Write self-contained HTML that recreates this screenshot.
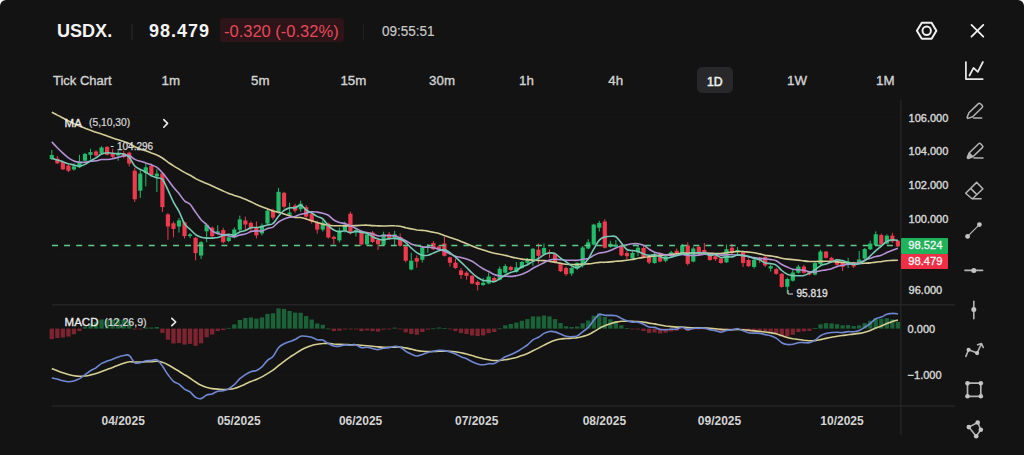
<!DOCTYPE html>
<html><head><meta charset="utf-8">
<style>
html,body{margin:0;padding:0;background:#ffffff;}
body{width:1024px;height:455px;overflow:hidden;position:relative;font-family:"Liberation Sans", sans-serif;}
#app{position:absolute;left:0;top:0;width:1024px;height:455px;background:#131313;border-radius:6px 6px 0 0;overflow:hidden;}
.t{position:absolute;white-space:nowrap;font-family:"Liberation Sans", sans-serif;}
</style></head><body><div id="app">

<svg width="1024" height="455" style="position:absolute;left:0;top:0">
<rect x="52" y="116.7" width="848" height="1" fill="#171717"/><rect x="52" y="149.5" width="848" height="1" fill="#171717"/><rect x="52" y="183.7" width="848" height="1" fill="#171717"/><rect x="52" y="218.1" width="848" height="1" fill="#171717"/><rect x="52" y="253.7" width="848" height="1" fill="#171717"/><rect x="52" y="289.5" width="848" height="1" fill="#171717"/><rect x="52" y="328.1" width="848" height="1" fill="#171717"/><rect x="52" y="374.7" width="848" height="1" fill="#171717"/>
 <rect x="52" y="304.2" width="903" height="1.2" fill="#28282c"/>
 <rect x="52" y="405.4" width="903" height="1.2" fill="#28282c"/>
 <rect x="900.2" y="100" width="1.3" height="335" fill="#272729"/>
 <g><rect x="51.30" y="150.0" width="1" height="10.0" fill="#22bb6a"/>
<rect x="49.70" y="155.0" width="4.2" height="4.0" fill="#22bb6a"/>
<rect x="56.83" y="156.0" width="1" height="8.0" fill="#ee3a4f"/>
<rect x="55.23" y="158.7" width="4.2" height="4.6" fill="#ee3a4f"/>
<rect x="62.36" y="160.7" width="1" height="9.3" fill="#ee3a4f"/>
<rect x="60.76" y="162.0" width="4.2" height="7.3" fill="#ee3a4f"/>
<rect x="67.89" y="164.0" width="1" height="8.0" fill="#ee3a4f"/>
<rect x="66.29" y="165.6" width="4.2" height="5.2" fill="#ee3a4f"/>
<rect x="73.42" y="163.3" width="1" height="7.3" fill="#22bb6a"/>
<rect x="71.82" y="166.4" width="4.2" height="3.1" fill="#22bb6a"/>
<rect x="78.95" y="154.8" width="1" height="13.2" fill="#22bb6a"/>
<rect x="77.35" y="161.4" width="4.2" height="5.9" fill="#22bb6a"/>
<rect x="84.48" y="152.8" width="1" height="8.6" fill="#22bb6a"/>
<rect x="82.88" y="154.0" width="4.2" height="6.7" fill="#22bb6a"/>
<rect x="90.01" y="148.8" width="1" height="10.6" fill="#22bb6a"/>
<rect x="88.41" y="152.1" width="4.2" height="2.7" fill="#22bb6a"/>
<rect x="95.54" y="150.2" width="1" height="6.5" fill="#ee3a4f"/>
<rect x="93.94" y="151.5" width="4.2" height="3.9" fill="#ee3a4f"/>
<rect x="101.07" y="146.2" width="1" height="7.9" fill="#22bb6a"/>
<rect x="99.47" y="147.5" width="4.2" height="6.0" fill="#22bb6a"/>
<rect x="106.60" y="146.2" width="1" height="9.2" fill="#ee3a4f"/>
<rect x="105.00" y="146.9" width="4.2" height="7.9" fill="#ee3a4f"/>
<rect x="112.13" y="148.8" width="1" height="9.2" fill="#ee3a4f"/>
<rect x="110.53" y="153.5" width="4.2" height="3.2" fill="#ee3a4f"/>
<rect x="117.66" y="150.8" width="1" height="9.9" fill="#22bb6a"/>
<rect x="116.06" y="153.5" width="4.2" height="1.9" fill="#22bb6a"/>
<rect x="123.19" y="151.0" width="1" height="7.0" fill="#ee3a4f"/>
<rect x="121.59" y="153.0" width="4.2" height="4.0" fill="#ee3a4f"/>
<rect x="128.72" y="151.6" width="1" height="14.8" fill="#ee3a4f"/>
<rect x="127.12" y="152.7" width="4.2" height="10.9" fill="#ee3a4f"/>
<rect x="134.25" y="167.9" width="1" height="34.1" fill="#ee3a4f"/>
<rect x="132.65" y="170.7" width="4.2" height="28.6" fill="#ee3a4f"/>
<rect x="139.78" y="169.3" width="1" height="28.6" fill="#22bb6a"/>
<rect x="138.18" y="173.6" width="4.2" height="17.1" fill="#22bb6a"/>
<rect x="145.31" y="163.6" width="1" height="22.8" fill="#22bb6a"/>
<rect x="143.71" y="167.3" width="4.2" height="5.7" fill="#22bb6a"/>
<rect x="150.84" y="163.6" width="1" height="12.8" fill="#ee3a4f"/>
<rect x="149.24" y="165.9" width="4.2" height="9.1" fill="#ee3a4f"/>
<rect x="156.37" y="169.3" width="1" height="22.7" fill="#22bb6a"/>
<rect x="154.77" y="173.6" width="4.2" height="2.8" fill="#22bb6a"/>
<rect x="161.90" y="172.0" width="1" height="40.0" fill="#ee3a4f"/>
<rect x="160.30" y="173.3" width="4.2" height="33.8" fill="#ee3a4f"/>
<rect x="167.43" y="213.2" width="1" height="26.6" fill="#ee3a4f"/>
<rect x="165.83" y="214.4" width="4.2" height="12.1" fill="#ee3a4f"/>
<rect x="172.96" y="221.6" width="1" height="15.7" fill="#ee3a4f"/>
<rect x="171.36" y="223.3" width="4.2" height="5.6" fill="#ee3a4f"/>
<rect x="178.49" y="218.0" width="1" height="14.5" fill="#22bb6a"/>
<rect x="176.89" y="220.4" width="4.2" height="6.1" fill="#22bb6a"/>
<rect x="184.02" y="221.6" width="1" height="16.9" fill="#ee3a4f"/>
<rect x="182.42" y="222.4" width="4.2" height="13.7" fill="#ee3a4f"/>
<rect x="189.55" y="233.0" width="1" height="5.0" fill="#22bb6a"/>
<rect x="187.95" y="234.4" width="4.2" height="1.7" fill="#22bb6a"/>
<rect x="195.08" y="236.9" width="1" height="23.4" fill="#ee3a4f"/>
<rect x="193.48" y="237.8" width="4.2" height="15.2" fill="#ee3a4f"/>
<rect x="200.61" y="241.0" width="1" height="18.0" fill="#22bb6a"/>
<rect x="199.01" y="242.2" width="4.2" height="13.3" fill="#22bb6a"/>
<rect x="206.14" y="223.3" width="1" height="18.9" fill="#22bb6a"/>
<rect x="204.54" y="224.8" width="4.2" height="6.5" fill="#22bb6a"/>
<rect x="211.67" y="226.5" width="1" height="12.0" fill="#ee3a4f"/>
<rect x="210.07" y="227.7" width="4.2" height="8.4" fill="#ee3a4f"/>
<rect x="217.20" y="225.3" width="1" height="9.6" fill="#22bb6a"/>
<rect x="215.60" y="231.3" width="4.2" height="2.4" fill="#22bb6a"/>
<rect x="222.73" y="227.7" width="1" height="15.7" fill="#ee3a4f"/>
<rect x="221.13" y="230.1" width="4.2" height="12.1" fill="#ee3a4f"/>
<rect x="228.26" y="236.1" width="1" height="6.1" fill="#22bb6a"/>
<rect x="226.66" y="237.3" width="4.2" height="3.7" fill="#22bb6a"/>
<rect x="233.79" y="227.5" width="1" height="10.9" fill="#22bb6a"/>
<rect x="232.19" y="229.5" width="4.2" height="7.9" fill="#22bb6a"/>
<rect x="239.32" y="215.6" width="1" height="15.8" fill="#22bb6a"/>
<rect x="237.72" y="219.4" width="4.2" height="10.4" fill="#22bb6a"/>
<rect x="244.85" y="216.6" width="1" height="13.8" fill="#ee3a4f"/>
<rect x="243.25" y="220.5" width="4.2" height="4.0" fill="#ee3a4f"/>
<rect x="250.38" y="221.5" width="1" height="10.9" fill="#ee3a4f"/>
<rect x="248.78" y="222.9" width="4.2" height="5.6" fill="#ee3a4f"/>
<rect x="255.91" y="221.5" width="1" height="16.9" fill="#ee3a4f"/>
<rect x="254.31" y="226.9" width="4.2" height="8.5" fill="#ee3a4f"/>
<rect x="261.44" y="223.5" width="1" height="11.9" fill="#22bb6a"/>
<rect x="259.84" y="225.5" width="4.2" height="7.9" fill="#22bb6a"/>
<rect x="266.97" y="208.7" width="1" height="15.8" fill="#22bb6a"/>
<rect x="265.37" y="210.6" width="4.2" height="12.9" fill="#22bb6a"/>
<rect x="272.50" y="208.7" width="1" height="10.9" fill="#ee3a4f"/>
<rect x="270.90" y="210.6" width="4.2" height="7.0" fill="#ee3a4f"/>
<rect x="278.03" y="187.9" width="1" height="25.7" fill="#22bb6a"/>
<rect x="276.43" y="191.8" width="4.2" height="20.8" fill="#22bb6a"/>
<rect x="283.56" y="191.8" width="1" height="16.9" fill="#ee3a4f"/>
<rect x="281.96" y="192.8" width="4.2" height="13.9" fill="#ee3a4f"/>
<rect x="289.09" y="202.7" width="1" height="14.9" fill="#22bb6a"/>
<rect x="287.49" y="212.6" width="4.2" height="2.0" fill="#22bb6a"/>
<rect x="294.62" y="203.7" width="1" height="8.9" fill="#ee3a4f"/>
<rect x="293.02" y="205.7" width="4.2" height="4.9" fill="#ee3a4f"/>
<rect x="300.15" y="200.7" width="1" height="10.9" fill="#22bb6a"/>
<rect x="298.55" y="203.7" width="4.2" height="5.5" fill="#22bb6a"/>
<rect x="305.68" y="205.2" width="1" height="14.0" fill="#ee3a4f"/>
<rect x="304.08" y="207.2" width="4.2" height="9.4" fill="#ee3a4f"/>
<rect x="311.21" y="212.7" width="1" height="10.9" fill="#ee3a4f"/>
<rect x="309.61" y="213.7" width="4.2" height="7.9" fill="#ee3a4f"/>
<rect x="316.74" y="220.6" width="1" height="12.9" fill="#ee3a4f"/>
<rect x="315.14" y="222.6" width="4.2" height="7.0" fill="#ee3a4f"/>
<rect x="322.27" y="219.7" width="1" height="11.8" fill="#22bb6a"/>
<rect x="320.67" y="222.6" width="4.2" height="7.0" fill="#22bb6a"/>
<rect x="327.80" y="222.6" width="1" height="15.9" fill="#ee3a4f"/>
<rect x="326.20" y="223.6" width="4.2" height="13.9" fill="#ee3a4f"/>
<rect x="333.33" y="235.5" width="1" height="8.9" fill="#ee3a4f"/>
<rect x="331.73" y="236.9" width="4.2" height="2.0" fill="#ee3a4f"/>
<rect x="338.86" y="227.6" width="1" height="14.8" fill="#22bb6a"/>
<rect x="337.26" y="230.5" width="4.2" height="9.9" fill="#22bb6a"/>
<rect x="344.39" y="221.6" width="1" height="10.9" fill="#22bb6a"/>
<rect x="342.79" y="224.6" width="4.2" height="5.9" fill="#22bb6a"/>
<rect x="349.92" y="211.7" width="1" height="22.8" fill="#ee3a4f"/>
<rect x="348.32" y="213.7" width="4.2" height="18.8" fill="#ee3a4f"/>
<rect x="355.45" y="228.6" width="1" height="7.9" fill="#22bb6a"/>
<rect x="353.85" y="230.1" width="4.2" height="2.4" fill="#22bb6a"/>
<rect x="360.98" y="230.5" width="1" height="14.9" fill="#ee3a4f"/>
<rect x="359.38" y="231.5" width="4.2" height="12.9" fill="#ee3a4f"/>
<rect x="366.51" y="232.5" width="1" height="12.9" fill="#22bb6a"/>
<rect x="364.91" y="234.5" width="4.2" height="9.9" fill="#22bb6a"/>
<rect x="372.04" y="231.0" width="1" height="12.0" fill="#ee3a4f"/>
<rect x="370.44" y="232.5" width="4.2" height="9.5" fill="#ee3a4f"/>
<rect x="377.57" y="238.5" width="1" height="11.5" fill="#ee3a4f"/>
<rect x="375.97" y="240.0" width="4.2" height="4.2" fill="#ee3a4f"/>
<rect x="383.10" y="231.7" width="1" height="14.1" fill="#22bb6a"/>
<rect x="381.50" y="234.3" width="4.2" height="10.6" fill="#22bb6a"/>
<rect x="388.63" y="232.0" width="1" height="8.0" fill="#ee3a4f"/>
<rect x="387.03" y="234.3" width="4.2" height="3.6" fill="#ee3a4f"/>
<rect x="394.16" y="230.8" width="1" height="15.0" fill="#22bb6a"/>
<rect x="392.56" y="234.3" width="4.2" height="4.4" fill="#22bb6a"/>
<rect x="399.69" y="233.5" width="1" height="13.1" fill="#ee3a4f"/>
<rect x="398.09" y="237.0" width="4.2" height="8.8" fill="#ee3a4f"/>
<rect x="405.22" y="245.8" width="1" height="16.7" fill="#ee3a4f"/>
<rect x="403.62" y="246.6" width="4.2" height="14.1" fill="#ee3a4f"/>
<rect x="410.75" y="252.8" width="1" height="17.6" fill="#22bb6a"/>
<rect x="409.15" y="260.7" width="4.2" height="8.8" fill="#22bb6a"/>
<rect x="416.28" y="255.4" width="1" height="12.3" fill="#ee3a4f"/>
<rect x="414.68" y="258.1" width="4.2" height="3.5" fill="#ee3a4f"/>
<rect x="421.81" y="245.8" width="1" height="16.7" fill="#22bb6a"/>
<rect x="420.21" y="247.5" width="4.2" height="12.3" fill="#22bb6a"/>
<rect x="427.34" y="244.0" width="1" height="8.8" fill="#22bb6a"/>
<rect x="425.74" y="245.8" width="4.2" height="1.7" fill="#22bb6a"/>
<rect x="432.87" y="241.0" width="1" height="9.2" fill="#ee3a4f"/>
<rect x="431.27" y="243.1" width="4.2" height="6.2" fill="#ee3a4f"/>
<rect x="438.40" y="245.0" width="1" height="6.0" fill="#ee3a4f"/>
<rect x="436.80" y="246.5" width="4.2" height="3.1" fill="#ee3a4f"/>
<rect x="443.93" y="236.5" width="1" height="20.0" fill="#ee3a4f"/>
<rect x="442.33" y="243.5" width="4.2" height="12.3" fill="#ee3a4f"/>
<rect x="449.46" y="256.5" width="1" height="10.0" fill="#ee3a4f"/>
<rect x="447.86" y="257.3" width="4.2" height="5.4" fill="#ee3a4f"/>
<rect x="454.99" y="258.8" width="1" height="10.0" fill="#ee3a4f"/>
<rect x="453.39" y="262.7" width="4.2" height="5.3" fill="#ee3a4f"/>
<rect x="460.52" y="268.0" width="1" height="10.8" fill="#ee3a4f"/>
<rect x="458.92" y="270.4" width="4.2" height="4.6" fill="#ee3a4f"/>
<rect x="466.05" y="271.2" width="1" height="8.4" fill="#ee3a4f"/>
<rect x="464.45" y="272.7" width="4.2" height="3.1" fill="#ee3a4f"/>
<rect x="471.58" y="275.0" width="1" height="9.2" fill="#ee3a4f"/>
<rect x="469.98" y="275.8" width="4.2" height="7.7" fill="#ee3a4f"/>
<rect x="477.11" y="280.4" width="1" height="10.0" fill="#ee3a4f"/>
<rect x="475.51" y="281.9" width="4.2" height="3.1" fill="#ee3a4f"/>
<rect x="482.64" y="278.0" width="1" height="7.8" fill="#22bb6a"/>
<rect x="481.04" y="282.7" width="4.2" height="2.3" fill="#22bb6a"/>
<rect x="488.17" y="272.7" width="1" height="11.5" fill="#22bb6a"/>
<rect x="486.57" y="276.5" width="4.2" height="7.0" fill="#22bb6a"/>
<rect x="493.70" y="276.5" width="1" height="5.4" fill="#ee3a4f"/>
<rect x="492.10" y="278.0" width="4.2" height="3.2" fill="#ee3a4f"/>
<rect x="499.23" y="266.5" width="1" height="13.9" fill="#22bb6a"/>
<rect x="497.63" y="268.8" width="4.2" height="10.8" fill="#22bb6a"/>
<rect x="504.76" y="264.2" width="1" height="9.3" fill="#22bb6a"/>
<rect x="503.16" y="266.0" width="4.2" height="6.7" fill="#22bb6a"/>
<rect x="510.29" y="265.8" width="1" height="5.4" fill="#ee3a4f"/>
<rect x="508.69" y="267.0" width="4.2" height="3.0" fill="#ee3a4f"/>
<rect x="515.82" y="262.0" width="1" height="10.7" fill="#22bb6a"/>
<rect x="514.22" y="267.3" width="4.2" height="4.7" fill="#22bb6a"/>
<rect x="521.35" y="261.0" width="1" height="7.8" fill="#22bb6a"/>
<rect x="519.75" y="262.0" width="4.2" height="6.0" fill="#22bb6a"/>
<rect x="526.88" y="258.0" width="1" height="6.2" fill="#22bb6a"/>
<rect x="525.28" y="258.8" width="4.2" height="3.9" fill="#22bb6a"/>
<rect x="532.41" y="248.0" width="1" height="17.8" fill="#22bb6a"/>
<rect x="530.81" y="248.8" width="4.2" height="10.8" fill="#22bb6a"/>
<rect x="537.94" y="243.5" width="1" height="20.0" fill="#ee3a4f"/>
<rect x="536.34" y="249.6" width="4.2" height="6.2" fill="#ee3a4f"/>
<rect x="543.47" y="243.5" width="1" height="11.5" fill="#22bb6a"/>
<rect x="541.87" y="248.0" width="4.2" height="6.2" fill="#22bb6a"/>
<rect x="549.00" y="249.6" width="1" height="8.4" fill="#ee3a4f"/>
<rect x="547.40" y="252.0" width="4.2" height="1.5" fill="#ee3a4f"/>
<rect x="554.53" y="252.7" width="1" height="10.8" fill="#ee3a4f"/>
<rect x="552.93" y="254.2" width="4.2" height="7.8" fill="#ee3a4f"/>
<rect x="560.06" y="262.7" width="1" height="9.3" fill="#ee3a4f"/>
<rect x="558.46" y="264.2" width="4.2" height="7.0" fill="#ee3a4f"/>
<rect x="565.59" y="266.5" width="1" height="9.3" fill="#ee3a4f"/>
<rect x="563.99" y="268.0" width="4.2" height="6.2" fill="#ee3a4f"/>
<rect x="571.12" y="267.3" width="1" height="8.5" fill="#22bb6a"/>
<rect x="569.52" y="268.0" width="4.2" height="5.5" fill="#22bb6a"/>
<rect x="576.65" y="262.0" width="1" height="8.0" fill="#22bb6a"/>
<rect x="575.05" y="263.0" width="4.2" height="5.5" fill="#22bb6a"/>
<rect x="582.18" y="246.0" width="1" height="21.5" fill="#22bb6a"/>
<rect x="580.58" y="247.5" width="4.2" height="18.1" fill="#22bb6a"/>
<rect x="587.71" y="239.2" width="1" height="10.0" fill="#22bb6a"/>
<rect x="586.11" y="242.3" width="4.2" height="6.2" fill="#22bb6a"/>
<rect x="593.24" y="223.8" width="1" height="21.6" fill="#22bb6a"/>
<rect x="591.64" y="224.6" width="4.2" height="20.0" fill="#22bb6a"/>
<rect x="598.77" y="220.8" width="1" height="10.7" fill="#22bb6a"/>
<rect x="597.17" y="223.0" width="4.2" height="4.7" fill="#22bb6a"/>
<rect x="604.30" y="219.2" width="1" height="29.3" fill="#ee3a4f"/>
<rect x="602.70" y="221.5" width="4.2" height="26.2" fill="#ee3a4f"/>
<rect x="609.83" y="240.8" width="1" height="6.9" fill="#22bb6a"/>
<rect x="608.23" y="243.8" width="4.2" height="3.1" fill="#22bb6a"/>
<rect x="615.36" y="240.0" width="1" height="7.7" fill="#22bb6a"/>
<rect x="613.76" y="244.6" width="4.2" height="2.3" fill="#22bb6a"/>
<rect x="620.89" y="244.6" width="1" height="11.6" fill="#ee3a4f"/>
<rect x="619.29" y="245.4" width="4.2" height="10.0" fill="#ee3a4f"/>
<rect x="626.42" y="250.8" width="1" height="8.4" fill="#ee3a4f"/>
<rect x="624.82" y="253.0" width="4.2" height="3.2" fill="#ee3a4f"/>
<rect x="631.95" y="251.5" width="1" height="7.7" fill="#22bb6a"/>
<rect x="630.35" y="253.0" width="4.2" height="5.5" fill="#22bb6a"/>
<rect x="637.48" y="245.4" width="1" height="10.8" fill="#22bb6a"/>
<rect x="635.88" y="247.7" width="4.2" height="4.6" fill="#22bb6a"/>
<rect x="643.01" y="246.2" width="1" height="11.8" fill="#ee3a4f"/>
<rect x="641.41" y="248.0" width="4.2" height="9.3" fill="#ee3a4f"/>
<rect x="648.54" y="255.0" width="1" height="9.0" fill="#ee3a4f"/>
<rect x="646.94" y="256.5" width="4.2" height="6.0" fill="#ee3a4f"/>
<rect x="654.07" y="252.3" width="1" height="11.5" fill="#22bb6a"/>
<rect x="652.47" y="254.0" width="4.2" height="9.0" fill="#22bb6a"/>
<rect x="659.60" y="252.3" width="1" height="10.0" fill="#ee3a4f"/>
<rect x="658.00" y="253.8" width="4.2" height="7.7" fill="#ee3a4f"/>
<rect x="665.13" y="254.6" width="1" height="7.7" fill="#22bb6a"/>
<rect x="663.53" y="256.2" width="4.2" height="4.6" fill="#22bb6a"/>
<rect x="670.66" y="250.8" width="1" height="6.1" fill="#22bb6a"/>
<rect x="669.06" y="252.3" width="4.2" height="3.9" fill="#22bb6a"/>
<rect x="676.19" y="248.5" width="1" height="6.1" fill="#ee3a4f"/>
<rect x="674.59" y="250.8" width="4.2" height="3.0" fill="#ee3a4f"/>
<rect x="681.72" y="243.8" width="1" height="10.0" fill="#22bb6a"/>
<rect x="680.12" y="245.4" width="4.2" height="7.7" fill="#22bb6a"/>
<rect x="687.25" y="242.3" width="1" height="23.1" fill="#ee3a4f"/>
<rect x="685.65" y="245.4" width="4.2" height="18.4" fill="#ee3a4f"/>
<rect x="692.78" y="246.9" width="1" height="15.4" fill="#22bb6a"/>
<rect x="691.18" y="248.5" width="4.2" height="13.0" fill="#22bb6a"/>
<rect x="698.31" y="245.4" width="1" height="9.2" fill="#ee3a4f"/>
<rect x="696.71" y="246.9" width="4.2" height="6.2" fill="#ee3a4f"/>
<rect x="703.84" y="243.1" width="1" height="10.0" fill="#ee3a4f"/>
<rect x="702.24" y="250.0" width="4.2" height="2.3" fill="#ee3a4f"/>
<rect x="709.37" y="253.1" width="1" height="7.7" fill="#ee3a4f"/>
<rect x="707.77" y="254.6" width="4.2" height="5.4" fill="#ee3a4f"/>
<rect x="714.90" y="255.0" width="1" height="6.0" fill="#ee3a4f"/>
<rect x="713.30" y="256.2" width="4.2" height="3.0" fill="#ee3a4f"/>
<rect x="720.43" y="257.0" width="1" height="6.8" fill="#ee3a4f"/>
<rect x="718.83" y="258.5" width="4.2" height="4.5" fill="#ee3a4f"/>
<rect x="725.96" y="244.6" width="1" height="18.4" fill="#22bb6a"/>
<rect x="724.36" y="249.2" width="4.2" height="13.1" fill="#22bb6a"/>
<rect x="731.49" y="243.8" width="1" height="10.8" fill="#ee3a4f"/>
<rect x="729.89" y="247.7" width="4.2" height="5.4" fill="#ee3a4f"/>
<rect x="737.02" y="247.0" width="1" height="7.6" fill="#22bb6a"/>
<rect x="735.42" y="250.0" width="4.2" height="2.3" fill="#22bb6a"/>
<rect x="742.55" y="250.8" width="1" height="16.2" fill="#ee3a4f"/>
<rect x="740.95" y="251.5" width="4.2" height="11.5" fill="#ee3a4f"/>
<rect x="748.08" y="258.5" width="1" height="8.5" fill="#ee3a4f"/>
<rect x="746.48" y="260.0" width="4.2" height="6.2" fill="#ee3a4f"/>
<rect x="753.61" y="258.5" width="1" height="10.0" fill="#22bb6a"/>
<rect x="752.01" y="260.0" width="4.2" height="6.9" fill="#22bb6a"/>
<rect x="759.14" y="257.0" width="1" height="6.0" fill="#ee3a4f"/>
<rect x="757.54" y="257.7" width="4.2" height="2.3" fill="#ee3a4f"/>
<rect x="764.67" y="255.4" width="1" height="11.6" fill="#ee3a4f"/>
<rect x="763.07" y="257.0" width="4.2" height="8.4" fill="#ee3a4f"/>
<rect x="770.20" y="264.6" width="1" height="6.9" fill="#22bb6a"/>
<rect x="768.60" y="266.2" width="4.2" height="2.3" fill="#22bb6a"/>
<rect x="775.73" y="267.7" width="1" height="6.9" fill="#ee3a4f"/>
<rect x="774.13" y="269.2" width="4.2" height="4.6" fill="#ee3a4f"/>
<rect x="781.26" y="273.0" width="1" height="14.7" fill="#ee3a4f"/>
<rect x="779.66" y="273.8" width="4.2" height="13.1" fill="#ee3a4f"/>
<rect x="786.79" y="277.5" width="1" height="16.0" fill="#22bb6a"/>
<rect x="785.19" y="279.0" width="4.2" height="7.8" fill="#22bb6a"/>
<rect x="792.32" y="270.0" width="1" height="11.5" fill="#22bb6a"/>
<rect x="790.72" y="272.5" width="4.2" height="8.2" fill="#22bb6a"/>
<rect x="797.85" y="264.8" width="1" height="8.8" fill="#22bb6a"/>
<rect x="796.25" y="266.6" width="4.2" height="6.1" fill="#22bb6a"/>
<rect x="803.38" y="264.8" width="1" height="8.8" fill="#ee3a4f"/>
<rect x="801.78" y="266.6" width="4.2" height="6.1" fill="#ee3a4f"/>
<rect x="808.91" y="271.0" width="1" height="4.4" fill="#ee3a4f"/>
<rect x="807.31" y="271.9" width="4.2" height="2.6" fill="#ee3a4f"/>
<rect x="814.44" y="262.2" width="1" height="13.2" fill="#22bb6a"/>
<rect x="812.84" y="263.1" width="4.2" height="11.4" fill="#22bb6a"/>
<rect x="819.97" y="249.9" width="1" height="14.9" fill="#22bb6a"/>
<rect x="818.37" y="251.6" width="4.2" height="12.4" fill="#22bb6a"/>
<rect x="825.50" y="250.8" width="1" height="7.9" fill="#ee3a4f"/>
<rect x="823.90" y="251.6" width="4.2" height="6.2" fill="#ee3a4f"/>
<rect x="831.03" y="256.9" width="1" height="6.2" fill="#ee3a4f"/>
<rect x="829.43" y="257.8" width="4.2" height="4.4" fill="#ee3a4f"/>
<rect x="836.56" y="260.4" width="1" height="5.3" fill="#ee3a4f"/>
<rect x="834.96" y="261.3" width="4.2" height="3.5" fill="#ee3a4f"/>
<rect x="842.09" y="260.4" width="1" height="10.6" fill="#ee3a4f"/>
<rect x="840.49" y="262.0" width="4.2" height="4.8" fill="#ee3a4f"/>
<rect x="847.62" y="257.8" width="1" height="10.2" fill="#22bb6a"/>
<rect x="846.02" y="261.5" width="4.2" height="3.3" fill="#22bb6a"/>
<rect x="853.15" y="261.8" width="1" height="6.2" fill="#ee3a4f"/>
<rect x="851.55" y="262.5" width="4.2" height="4.0" fill="#ee3a4f"/>
<rect x="858.68" y="251.0" width="1" height="12.5" fill="#22bb6a"/>
<rect x="857.08" y="259.5" width="4.2" height="3.0" fill="#22bb6a"/>
<rect x="864.21" y="248.0" width="1" height="11.5" fill="#22bb6a"/>
<rect x="862.61" y="249.0" width="4.2" height="9.5" fill="#22bb6a"/>
<rect x="869.74" y="240.7" width="1" height="9.3" fill="#22bb6a"/>
<rect x="868.14" y="243.6" width="4.2" height="5.7" fill="#22bb6a"/>
<rect x="875.27" y="231.4" width="1" height="14.3" fill="#22bb6a"/>
<rect x="873.67" y="234.3" width="4.2" height="10.7" fill="#22bb6a"/>
<rect x="880.80" y="233.6" width="1" height="11.4" fill="#ee3a4f"/>
<rect x="879.20" y="235.0" width="4.2" height="9.3" fill="#ee3a4f"/>
<rect x="886.33" y="234.3" width="1" height="10.0" fill="#22bb6a"/>
<rect x="884.73" y="235.7" width="4.2" height="7.9" fill="#22bb6a"/>
<rect x="891.86" y="232.9" width="1" height="10.0" fill="#ee3a4f"/>
<rect x="890.26" y="235.7" width="4.2" height="5.7" fill="#ee3a4f"/>
<rect x="897.39" y="240.0" width="1" height="7.1" fill="#ee3a4f"/>
<rect x="895.79" y="240.7" width="4.2" height="5.7" fill="#ee3a4f"/>
<path d="M51.8,112.3 C52.7,112.8 55.5,114.1 57.3,115.1 C59.2,116.0 61.0,117.0 62.9,118.0 C64.7,119.0 66.5,120.0 68.4,120.9 C70.2,121.8 72.1,122.7 73.9,123.6 C75.8,124.5 77.6,125.3 79.5,126.1 C81.3,126.8 83.1,127.5 85.0,128.2 C86.8,128.9 88.7,129.6 90.5,130.3 C92.4,130.9 94.2,131.7 96.0,132.3 C97.9,133.0 99.7,133.5 101.6,134.1 C103.4,134.7 105.3,135.4 107.1,136.0 C108.9,136.7 110.8,137.4 112.6,138.0 C114.5,138.6 116.3,139.2 118.2,139.8 C120.0,140.4 121.8,141.0 123.7,141.6 C125.5,142.2 127.4,142.7 129.2,143.6 C131.1,144.4 132.9,145.8 134.8,146.7 C136.6,147.6 138.4,148.2 140.3,148.9 C142.1,149.6 144.0,150.2 145.8,150.8 C147.7,151.5 149.5,152.3 151.3,153.0 C153.2,153.6 155.0,154.1 156.9,155.0 C158.7,155.8 160.6,156.9 162.4,158.0 C164.2,159.2 166.1,160.8 167.9,162.1 C169.8,163.4 171.6,164.7 173.5,165.9 C175.3,167.0 177.1,168.0 179.0,169.1 C180.8,170.2 182.7,171.4 184.5,172.4 C186.4,173.5 188.2,174.3 190.1,175.3 C191.9,176.3 193.7,177.6 195.6,178.6 C197.4,179.6 199.3,180.5 201.1,181.3 C203.0,182.1 204.8,182.7 206.6,183.4 C208.5,184.2 210.3,185.1 212.2,186.0 C214.0,186.8 215.9,187.7 217.7,188.5 C219.5,189.4 221.4,190.3 223.2,191.1 C225.1,192.0 226.9,192.7 228.8,193.4 C230.6,194.1 232.4,194.7 234.3,195.4 C236.1,196.0 238.0,196.5 239.8,197.1 C241.7,197.8 243.5,198.5 245.4,199.2 C247.2,200.0 249.0,200.8 250.9,201.7 C252.7,202.6 254.6,203.6 256.4,204.5 C258.3,205.3 260.1,206.1 261.9,206.8 C263.8,207.6 265.6,208.2 267.5,208.9 C269.3,209.6 271.2,210.5 273.0,211.0 C274.8,211.6 276.7,211.7 278.5,212.2 C280.4,212.7 282.2,213.4 284.1,214.0 C285.9,214.6 287.7,215.3 289.6,215.8 C291.4,216.4 293.3,217.1 295.1,217.4 C297.0,217.7 298.8,217.3 300.7,217.5 C302.5,217.8 304.3,218.4 306.2,219.0 C308.0,219.5 309.9,220.2 311.7,220.8 C313.6,221.4 315.4,222.0 317.2,222.6 C319.1,223.2 320.9,223.8 322.8,224.2 C324.6,224.7 326.5,225.0 328.3,225.2 C330.1,225.5 332.0,225.6 333.8,225.7 C335.7,225.7 337.5,225.7 339.4,225.7 C341.2,225.7 343.0,225.9 344.9,225.9 C346.7,225.9 348.6,225.8 350.4,225.7 C352.3,225.7 354.1,225.7 356.0,225.6 C357.8,225.5 359.6,225.4 361.5,225.3 C363.3,225.2 365.2,225.0 367.0,225.1 C368.9,225.1 370.7,225.5 372.5,225.6 C374.4,225.8 376.2,225.8 378.1,225.9 C379.9,226.0 381.8,226.0 383.6,226.0 C385.4,226.0 387.3,225.9 389.1,225.8 C391.0,225.8 392.8,225.7 394.7,225.8 C396.5,225.8 398.3,226.0 400.2,226.3 C402.0,226.6 403.9,227.2 405.7,227.7 C407.6,228.1 409.4,228.5 411.2,228.9 C413.1,229.3 414.9,229.7 416.8,230.0 C418.6,230.2 420.5,230.2 422.3,230.4 C424.2,230.6 426.0,230.7 427.8,231.1 C429.7,231.4 431.5,232.0 433.4,232.3 C435.2,232.7 437.1,232.9 438.9,233.4 C440.7,233.9 442.6,234.9 444.4,235.6 C446.3,236.2 448.1,236.8 450.0,237.4 C451.8,238.0 453.6,238.6 455.5,239.3 C457.3,239.9 459.2,240.7 461.0,241.4 C462.9,242.2 464.7,243.0 466.6,243.8 C468.4,244.6 470.2,245.3 472.1,246.0 C473.9,246.8 475.8,247.5 477.6,248.2 C479.5,248.8 481.3,249.3 483.1,249.9 C485.0,250.5 486.8,251.2 488.7,251.7 C490.5,252.3 492.4,252.8 494.2,253.2 C496.0,253.6 497.9,253.8 499.7,254.2 C501.6,254.5 503.4,254.9 505.3,255.4 C507.1,255.8 508.9,256.4 510.8,256.9 C512.6,257.3 514.5,257.7 516.3,258.0 C518.2,258.4 520.0,258.8 521.9,259.1 C523.7,259.4 525.5,259.4 527.4,259.6 C529.2,259.7 531.1,259.9 532.9,260.1 C534.8,260.2 536.6,260.4 538.4,260.5 C540.3,260.6 542.1,260.5 544.0,260.6 C545.8,260.8 547.7,261.0 549.5,261.3 C551.3,261.5 553.2,261.7 555.0,262.1 C556.9,262.4 558.7,263.0 560.6,263.3 C562.4,263.7 564.2,264.1 566.1,264.3 C567.9,264.5 569.8,264.4 571.6,264.5 C573.5,264.6 575.3,264.6 577.1,264.6 C579.0,264.5 580.8,264.2 582.7,264.1 C584.5,264.0 586.4,264.1 588.2,263.9 C590.1,263.8 591.9,263.5 593.7,263.2 C595.6,263.0 597.4,262.5 599.3,262.4 C601.1,262.2 603.0,262.4 604.8,262.3 C606.6,262.2 608.5,262.1 610.3,261.9 C612.2,261.7 614.0,261.5 615.9,261.3 C617.7,261.1 619.5,261.0 621.4,260.9 C623.2,260.7 625.1,260.5 626.9,260.2 C628.8,260.0 630.6,259.8 632.4,259.5 C634.3,259.2 636.1,258.6 638.0,258.3 C639.8,257.9 641.7,257.6 643.5,257.4 C645.4,257.1 647.2,256.9 649.0,256.7 C650.9,256.5 652.7,256.2 654.6,255.9 C656.4,255.7 658.3,255.5 660.1,255.3 C661.9,255.1 663.8,255.0 665.6,254.9 C667.5,254.7 669.3,254.6 671.2,254.4 C673.0,254.2 674.8,254.1 676.7,253.9 C678.5,253.7 680.4,253.2 682.2,253.1 C684.1,253.0 685.9,253.2 687.8,253.2 C689.6,253.1 691.4,252.9 693.3,252.9 C695.1,252.8 697.0,253.0 698.8,253.0 C700.7,253.0 702.5,252.8 704.3,252.9 C706.2,252.9 708.0,253.2 709.9,253.3 C711.7,253.4 713.6,253.4 715.4,253.5 C717.2,253.5 719.1,253.6 720.9,253.5 C722.8,253.4 724.6,253.0 726.5,252.8 C728.3,252.5 730.1,252.3 732.0,252.1 C733.8,251.8 735.7,251.6 737.5,251.5 C739.4,251.4 741.2,251.4 743.0,251.5 C744.9,251.6 746.7,251.9 748.6,252.1 C750.4,252.3 752.3,252.4 754.1,252.7 C756.0,253.0 757.8,253.4 759.6,253.9 C761.5,254.3 763.3,254.9 765.2,255.3 C767.0,255.6 768.9,255.6 770.7,255.9 C772.5,256.2 774.4,256.5 776.2,256.9 C778.1,257.3 779.9,257.9 781.8,258.3 C783.6,258.7 785.4,258.9 787.3,259.1 C789.1,259.3 791.0,259.5 792.8,259.6 C794.7,259.8 796.5,259.9 798.4,260.1 C800.2,260.3 802.0,260.7 803.9,260.9 C805.7,261.2 807.6,261.4 809.4,261.5 C811.3,261.6 813.1,261.5 814.9,261.5 C816.8,261.5 818.6,261.5 820.5,261.4 C822.3,261.4 824.2,261.3 826.0,261.3 C827.8,261.3 829.7,261.4 831.5,261.5 C833.4,261.6 835.2,261.8 837.1,261.9 C838.9,262.1 840.7,262.2 842.6,262.4 C844.4,262.5 846.3,262.8 848.1,262.9 C850.0,263.0 851.8,262.9 853.6,263.0 C855.5,263.1 857.3,263.3 859.2,263.4 C861.0,263.4 862.9,263.3 864.7,263.2 C866.6,263.1 868.4,263.1 870.2,262.9 C872.1,262.7 873.9,262.3 875.8,262.1 C877.6,261.8 879.5,261.8 881.3,261.6 C883.1,261.3 885.0,260.9 886.8,260.7 C888.7,260.5 890.5,260.5 892.4,260.4 C894.2,260.3 897.0,260.2 897.9,260.2" stroke="#d3ce98" stroke-width="1.6" fill="none"/>
<path d="M51.8,141.9 C52.7,142.9 55.5,145.9 57.3,147.8 C59.2,149.7 61.0,151.5 62.9,153.2 C64.7,154.9 66.5,156.5 68.4,157.8 C70.2,159.1 72.1,160.2 73.9,160.9 C75.8,161.7 77.6,162.1 79.5,162.3 C81.3,162.5 83.1,162.4 85.0,162.2 C86.8,162.0 88.7,161.6 90.5,161.3 C92.4,161.1 94.2,161.1 96.0,160.8 C97.9,160.5 99.7,159.7 101.6,159.5 C103.4,159.3 105.3,159.6 107.1,159.5 C108.9,159.4 110.8,159.2 112.6,158.8 C114.5,158.5 116.3,157.8 118.2,157.3 C120.0,156.8 121.8,156.2 123.7,155.9 C125.5,155.6 127.4,155.0 129.2,155.6 C131.1,156.2 132.9,158.4 134.8,159.4 C136.6,160.3 138.4,160.8 140.3,161.3 C142.1,161.9 144.0,162.3 145.8,162.9 C147.7,163.4 149.5,164.1 151.3,164.8 C153.2,165.6 155.0,166.1 156.9,167.4 C158.7,168.7 160.6,170.6 162.4,172.7 C164.2,174.7 166.1,177.2 167.9,179.7 C169.8,182.1 171.6,184.9 173.5,187.2 C175.3,189.5 177.1,191.3 179.0,193.5 C180.8,195.8 182.7,199.0 184.5,200.8 C186.4,202.6 188.2,202.4 190.1,204.3 C191.9,206.2 193.7,209.7 195.6,212.2 C197.4,214.8 199.3,217.6 201.1,219.7 C203.0,221.8 204.8,222.8 206.6,224.7 C208.5,226.6 210.3,229.5 212.2,230.9 C214.0,232.4 215.9,232.7 217.7,233.4 C219.5,234.0 221.4,234.5 223.2,234.9 C225.1,235.3 226.9,235.5 228.8,235.8 C230.6,236.1 232.4,236.8 234.3,236.7 C236.1,236.6 238.0,235.5 239.8,235.0 C241.7,234.6 243.5,234.6 245.4,234.0 C247.2,233.5 249.0,232.1 250.9,231.6 C252.7,231.1 254.6,231.0 256.4,230.9 C258.3,230.8 260.1,231.4 261.9,231.0 C263.8,230.6 265.6,229.1 267.5,228.4 C269.3,227.8 271.2,228.1 273.0,227.1 C274.8,226.0 276.7,223.4 278.5,222.0 C280.4,220.7 282.2,219.7 284.1,218.9 C285.9,218.2 287.7,217.7 289.6,217.3 C291.4,216.8 293.3,216.9 295.1,216.4 C297.0,215.9 298.8,214.8 300.7,214.3 C302.5,213.8 304.3,213.5 306.2,213.1 C308.0,212.7 309.9,211.9 311.7,211.7 C313.6,211.6 315.4,211.9 317.2,212.1 C319.1,212.4 320.9,212.8 322.8,213.3 C324.6,213.9 326.5,214.2 328.3,215.3 C330.1,216.4 332.0,218.9 333.8,220.0 C335.7,221.2 337.5,221.8 339.4,222.4 C341.2,223.0 343.0,223.1 344.9,223.6 C346.7,224.2 348.6,225.0 350.4,225.8 C352.3,226.6 354.1,227.5 356.0,228.4 C357.8,229.4 359.6,230.6 361.5,231.2 C363.3,231.9 365.2,232.1 367.0,232.5 C368.9,232.9 370.7,233.2 372.5,233.8 C374.4,234.3 376.2,235.6 378.1,235.9 C379.9,236.2 381.8,235.7 383.6,235.6 C385.4,235.5 387.3,235.5 389.1,235.5 C391.0,235.5 392.8,235.5 394.7,235.9 C396.5,236.3 398.3,237.2 400.2,238.0 C402.0,238.8 403.9,239.8 405.7,240.8 C407.6,241.8 409.4,243.1 411.2,243.9 C413.1,244.7 414.9,245.1 416.8,245.6 C418.6,246.1 420.5,246.6 422.3,246.9 C424.2,247.2 426.0,247.1 427.8,247.3 C429.7,247.4 431.5,247.5 433.4,247.8 C435.2,248.1 437.1,248.8 438.9,249.3 C440.7,249.9 442.6,250.3 444.4,251.1 C446.3,251.9 448.1,253.1 450.0,253.9 C451.8,254.8 453.6,255.6 455.5,256.2 C457.3,256.8 459.2,257.1 461.0,257.6 C462.9,258.1 464.7,258.5 466.6,259.1 C468.4,259.7 470.2,260.3 472.1,261.3 C473.9,262.3 475.8,263.8 477.6,265.1 C479.5,266.3 481.3,267.7 483.1,268.7 C485.0,269.8 486.8,270.5 488.7,271.5 C490.5,272.4 492.4,273.9 494.2,274.6 C496.0,275.4 497.9,275.6 499.7,275.9 C501.6,276.2 503.4,276.2 505.3,276.2 C507.1,276.3 508.9,276.5 510.8,276.4 C512.6,276.4 514.5,276.0 516.3,275.7 C518.2,275.3 520.0,274.9 521.9,274.3 C523.7,273.7 525.5,272.8 527.4,271.8 C529.2,270.8 531.1,269.3 532.9,268.2 C534.8,267.2 536.6,266.4 538.4,265.5 C540.3,264.6 542.1,263.6 544.0,262.7 C545.8,261.7 547.7,260.5 549.5,259.9 C551.3,259.3 553.2,259.2 555.0,259.2 C556.9,259.2 558.7,259.6 560.6,259.7 C562.4,259.9 564.2,260.1 566.1,260.2 C567.9,260.2 569.8,260.2 571.6,260.2 C573.5,260.3 575.3,260.5 577.1,260.3 C579.0,260.2 580.8,259.5 582.7,259.2 C584.5,258.9 586.4,259.2 588.2,258.6 C590.1,257.9 591.9,256.4 593.7,255.4 C595.6,254.5 597.4,253.4 599.3,252.9 C601.1,252.4 603.0,252.8 604.8,252.3 C606.6,251.9 608.5,251.3 610.3,250.5 C612.2,249.8 614.0,248.6 615.9,247.9 C617.7,247.1 619.5,246.5 621.4,246.0 C623.2,245.5 625.1,245.2 626.9,244.8 C628.8,244.4 630.6,244.0 632.4,243.8 C634.3,243.6 636.1,243.6 638.0,243.8 C639.8,244.1 641.7,244.4 643.5,245.3 C645.4,246.2 647.2,248.0 649.0,249.1 C650.9,250.3 652.7,251.5 654.6,252.2 C656.4,253.0 658.3,253.2 660.1,253.6 C661.9,254.0 663.8,254.5 665.6,254.8 C667.5,255.2 669.3,255.5 671.2,255.6 C673.0,255.7 674.8,255.7 676.7,255.4 C678.5,255.2 680.4,254.4 682.2,254.4 C684.1,254.4 685.9,255.3 687.8,255.4 C689.6,255.6 691.4,255.6 693.3,255.5 C695.1,255.5 697.0,255.3 698.8,255.1 C700.7,254.9 702.5,254.2 704.3,254.1 C706.2,254.0 708.0,254.6 709.9,254.7 C711.7,254.8 713.6,254.4 715.4,254.5 C717.2,254.5 719.1,255.1 720.9,255.1 C722.8,255.2 724.6,254.9 726.5,254.8 C728.3,254.8 730.1,254.7 732.0,254.8 C733.8,254.8 735.7,255.2 737.5,255.2 C739.4,255.3 741.2,254.9 743.0,255.1 C744.9,255.4 746.7,256.5 748.6,256.9 C750.4,257.3 752.3,257.4 754.1,257.6 C756.0,257.8 757.8,258.2 759.6,258.4 C761.5,258.6 763.3,258.7 765.2,258.9 C767.0,259.1 768.9,259.3 770.7,259.6 C772.5,259.9 774.4,259.9 776.2,260.7 C778.1,261.5 779.9,263.4 781.8,264.5 C783.6,265.5 785.4,266.2 787.3,267.1 C789.1,267.9 791.0,268.9 792.8,269.3 C794.7,269.7 796.5,269.5 798.4,269.7 C800.2,269.8 802.0,270.0 803.9,270.3 C805.7,270.7 807.6,271.5 809.4,271.8 C811.3,272.1 813.1,272.2 814.9,272.1 C816.8,271.9 818.6,271.1 820.5,270.7 C822.3,270.3 824.2,270.2 826.0,269.9 C827.8,269.5 829.7,269.3 831.5,268.7 C833.4,268.1 835.2,267.1 837.1,266.5 C838.9,265.9 840.7,265.6 842.6,265.3 C844.4,264.9 846.3,264.3 848.1,264.2 C850.0,264.0 851.8,264.4 853.6,264.1 C855.5,263.9 857.3,263.5 859.2,262.8 C861.0,262.2 862.9,261.0 864.7,260.3 C866.6,259.5 868.4,258.9 870.2,258.3 C872.1,257.7 873.9,257.1 875.8,256.6 C877.6,256.1 879.5,255.9 881.3,255.2 C883.1,254.6 885.0,253.4 886.8,252.6 C888.7,251.8 890.5,251.0 892.4,250.3 C894.2,249.5 897.0,248.6 897.9,248.2" stroke="#b592d6" stroke-width="1.6" fill="none"/>
<path d="M51.8,158.3 C52.7,158.6 55.5,159.5 57.3,160.0 C59.2,160.6 61.0,161.1 62.9,161.7 C64.7,162.3 66.5,163.2 68.4,163.8 C70.2,164.3 72.1,164.6 73.9,165.0 C75.8,165.4 77.6,166.3 79.5,166.2 C81.3,166.1 83.1,165.3 85.0,164.4 C86.8,163.5 88.7,162.0 90.5,160.9 C92.4,159.9 94.2,159.0 96.0,157.9 C97.9,156.7 99.7,154.9 101.6,154.1 C103.4,153.2 105.3,152.9 107.1,152.8 C108.9,152.6 110.8,153.2 112.6,153.3 C114.5,153.4 116.3,153.5 118.2,153.6 C120.0,153.7 121.8,153.3 123.7,153.9 C125.5,154.5 127.4,155.1 129.2,157.1 C131.1,159.1 132.9,164.0 134.8,166.0 C136.6,168.1 138.4,168.4 140.3,169.4 C142.1,170.4 144.0,171.1 145.8,172.2 C147.7,173.2 149.5,174.8 151.3,175.8 C153.2,176.7 155.0,177.2 156.9,177.8 C158.7,178.4 160.6,177.3 162.4,179.3 C164.2,181.3 166.1,186.1 167.9,189.9 C169.8,193.7 171.6,198.7 173.5,202.2 C175.3,205.8 177.1,207.7 179.0,211.3 C180.8,214.9 182.7,220.8 184.5,223.8 C186.4,226.8 188.2,227.5 190.1,229.3 C191.9,231.1 193.7,233.2 195.6,234.6 C197.4,235.9 199.3,236.6 201.1,237.2 C203.0,237.8 204.8,238.0 206.6,238.1 C208.5,238.2 210.3,238.2 212.2,238.1 C214.0,238.0 215.9,237.9 217.7,237.5 C219.5,237.0 221.4,235.8 223.2,235.3 C225.1,234.8 226.9,234.3 228.8,234.3 C230.6,234.3 232.4,235.7 234.3,235.3 C236.1,234.9 238.0,232.7 239.8,231.9 C241.7,231.2 243.5,231.3 245.4,230.6 C247.2,229.9 249.0,228.4 250.9,227.8 C252.7,227.3 254.6,227.7 256.4,227.5 C258.3,227.3 260.1,227.1 261.9,226.7 C263.8,226.2 265.6,225.4 267.5,224.9 C269.3,224.4 271.2,225.0 273.0,223.5 C274.8,222.1 276.7,218.4 278.5,216.2 C280.4,214.0 282.2,211.8 284.1,210.4 C285.9,209.1 287.7,208.3 289.6,207.9 C291.4,207.4 293.3,208.3 295.1,207.9 C297.0,207.4 298.8,204.7 300.7,205.1 C302.5,205.4 304.3,208.7 306.2,210.0 C308.0,211.4 309.9,212.0 311.7,213.0 C313.6,214.1 315.4,215.5 317.2,216.4 C319.1,217.4 320.9,217.3 322.8,218.8 C324.6,220.3 326.5,223.7 328.3,225.6 C330.1,227.5 332.0,229.0 333.8,230.0 C335.7,231.1 337.5,231.7 339.4,231.8 C341.2,231.9 343.0,230.7 344.9,230.8 C346.7,231.0 348.6,232.7 350.4,232.8 C352.3,232.9 354.1,231.4 356.0,231.3 C357.8,231.3 359.6,232.1 361.5,232.4 C363.3,232.7 365.2,232.5 367.0,233.2 C368.9,233.9 370.7,235.7 372.5,236.7 C374.4,237.7 376.2,238.5 378.1,239.0 C379.9,239.6 381.8,240.0 383.6,239.9 C385.4,239.8 387.3,238.8 389.1,238.6 C391.0,238.4 392.8,238.4 394.7,238.5 C396.5,238.7 398.3,238.6 400.2,239.3 C402.0,240.0 403.9,241.2 405.7,242.6 C407.6,244.0 409.4,246.2 411.2,247.9 C413.1,249.6 414.9,251.4 416.8,252.6 C418.6,253.8 420.5,254.8 422.3,255.3 C424.2,255.7 426.0,255.6 427.8,255.3 C429.7,254.9 431.5,253.7 433.4,253.0 C435.2,252.2 437.1,251.3 438.9,250.8 C440.7,250.2 442.6,249.3 444.4,249.6 C446.3,249.9 448.1,251.4 450.0,252.6 C451.8,253.9 453.6,255.5 455.5,257.1 C457.3,258.7 459.2,260.5 461.0,262.2 C462.9,263.9 464.7,265.7 466.6,267.5 C468.4,269.3 470.2,271.3 472.1,273.0 C473.9,274.7 475.8,276.2 477.6,277.5 C479.5,278.7 481.3,279.9 483.1,280.4 C485.0,280.9 486.8,280.5 488.7,280.7 C490.5,280.9 492.4,282.1 494.2,281.8 C496.0,281.5 497.9,280.0 499.7,278.8 C501.6,277.7 503.4,276.1 505.3,275.0 C507.1,274.0 508.9,273.2 510.8,272.5 C512.6,271.8 514.5,271.6 516.3,270.7 C518.2,269.7 520.0,267.8 521.9,266.8 C523.7,265.8 525.5,265.7 527.4,264.8 C529.2,263.9 531.1,262.4 532.9,261.4 C534.8,260.3 536.6,259.7 538.4,258.5 C540.3,257.4 542.1,255.6 544.0,254.7 C545.8,253.8 547.7,253.2 549.5,253.0 C551.3,252.8 553.2,252.8 555.0,253.6 C556.9,254.5 558.7,256.7 560.6,258.1 C562.4,259.5 564.2,260.5 566.1,261.8 C567.9,263.1 569.8,264.8 571.6,265.8 C573.5,266.8 575.3,267.8 577.1,267.7 C579.0,267.5 580.8,266.2 582.7,264.8 C584.5,263.3 586.4,261.6 588.2,259.0 C590.1,256.4 591.9,252.2 593.7,249.1 C595.6,245.9 597.4,242.1 599.3,240.1 C601.1,238.1 603.0,237.7 604.8,237.0 C606.6,236.4 608.5,236.3 610.3,236.3 C612.2,236.2 614.0,235.6 615.9,236.7 C617.7,237.8 619.5,240.8 621.4,242.9 C623.2,245.0 625.1,248.3 626.9,249.5 C628.8,250.8 630.6,250.3 632.4,250.6 C634.3,250.9 636.1,250.8 638.0,251.4 C639.8,251.9 641.7,253.3 643.5,253.9 C645.4,254.6 647.2,255.2 649.0,255.3 C650.9,255.5 652.7,254.7 654.6,254.9 C656.4,255.1 658.3,256.0 660.1,256.6 C661.9,257.2 663.8,258.2 665.6,258.3 C667.5,258.4 669.3,257.8 671.2,257.3 C673.0,256.8 674.8,256.1 676.7,255.6 C678.5,255.0 680.4,254.1 682.2,253.8 C684.1,253.6 685.9,254.5 687.8,254.3 C689.6,254.1 691.4,253.0 693.3,252.8 C695.1,252.5 697.0,252.9 698.8,252.9 C700.7,252.9 702.5,252.2 704.3,252.6 C706.2,253.1 708.0,255.2 709.9,255.5 C711.7,255.9 713.6,254.3 715.4,254.6 C717.2,254.9 719.1,257.2 720.9,257.5 C722.8,257.9 724.6,256.8 726.5,256.7 C728.3,256.6 730.1,257.2 732.0,256.9 C733.8,256.6 735.7,255.1 737.5,254.9 C739.4,254.7 741.2,255.4 743.0,255.7 C744.9,255.9 746.7,255.8 748.6,256.3 C750.4,256.8 752.3,257.9 754.1,258.5 C756.0,259.0 757.8,259.1 759.6,259.8 C761.5,260.6 763.3,262.3 765.2,262.9 C767.0,263.5 768.9,263.2 770.7,263.6 C772.5,263.9 774.4,263.9 776.2,265.1 C778.1,266.2 779.9,268.9 781.8,270.5 C783.6,272.0 785.4,273.4 787.3,274.3 C789.1,275.1 791.0,275.4 792.8,275.7 C794.7,275.9 796.5,275.8 798.4,275.8 C800.2,275.7 802.0,276.0 803.9,275.5 C805.7,275.1 807.6,274.0 809.4,273.1 C811.3,272.1 813.1,271.1 814.9,269.9 C816.8,268.7 818.6,266.7 820.5,265.7 C822.3,264.7 824.2,264.6 826.0,263.9 C827.8,263.3 829.7,262.5 831.5,261.8 C833.4,261.2 835.2,260.1 837.1,259.9 C838.9,259.7 840.7,260.2 842.6,260.6 C844.4,261.1 846.3,262.0 848.1,262.6 C850.0,263.2 851.8,264.2 853.6,264.4 C855.5,264.6 857.3,264.4 859.2,263.8 C861.0,263.2 862.9,262.0 864.7,260.7 C866.6,259.4 868.4,257.7 870.2,256.0 C872.1,254.3 873.9,252.2 875.8,250.6 C877.6,248.9 879.5,247.7 881.3,246.1 C883.1,244.6 885.0,242.4 886.8,241.4 C888.7,240.3 890.5,240.0 892.4,239.9 C894.2,239.7 897.0,240.3 897.9,240.4" stroke="#78c9b6" stroke-width="1.6" fill="none"/></g>
 <path d="M52,245.5 L898,245.5" stroke="#62c98f" stroke-width="1.4" stroke-dasharray="6 6.1"/>
 <path d="M110.8,146.5 L113.6,146.5" stroke="#d8d8d8" stroke-width="1.2"/>
 <path d="M788,290 L788,294 L793,294" stroke="#d8d8d8" stroke-width="1" fill="none"/>
 <path d="M163.8,119.6 L167.6,123.4 L163.8,127.2" stroke="#eeeeee" stroke-width="1.6" fill="none" stroke-linecap="round" stroke-linejoin="round"/>
 <path d="M171.8,318.3 L175.7,322 L171.8,325.7" stroke="#eeeeee" stroke-width="1.6" fill="none" stroke-linecap="round" stroke-linejoin="round"/>
 <g><rect x="49.65" y="328.6" width="4.3" height="10.5" fill="#7c2430"/>
<rect x="55.18" y="328.6" width="4.3" height="9.4" fill="#7c2430"/>
<rect x="60.71" y="328.6" width="4.3" height="8.9" fill="#7c2430"/>
<rect x="66.24" y="328.6" width="4.3" height="8.0" fill="#7c2430"/>
<rect x="71.77" y="328.6" width="4.3" height="5.7" fill="#7c2430"/>
<rect x="77.30" y="328.6" width="4.3" height="2.5" fill="#7c2430"/>
<rect x="82.83" y="327.1" width="4.3" height="1.5" fill="#1b6238"/>
<rect x="88.36" y="323.8" width="4.3" height="4.8" fill="#1b6238"/>
<rect x="93.89" y="322.2" width="4.3" height="6.4" fill="#1b6238"/>
<rect x="99.42" y="319.5" width="4.3" height="9.1" fill="#1b6238"/>
<rect x="104.95" y="319.3" width="4.3" height="9.3" fill="#1b6238"/>
<rect x="110.48" y="319.6" width="4.3" height="9.0" fill="#1b6238"/>
<rect x="116.01" y="319.2" width="4.3" height="9.4" fill="#1b6238"/>
<rect x="121.54" y="319.8" width="4.3" height="8.8" fill="#1b6238"/>
<rect x="127.07" y="321.5" width="4.3" height="7.1" fill="#1b6238"/>
<rect x="132.60" y="328.6" width="4.3" height="0.9" fill="#7c2430"/>
<rect x="138.13" y="328.6" width="4.3" height="0.8" fill="#7c2430"/>
<rect x="143.66" y="327.4" width="4.3" height="1.2" fill="#1b6238"/>
<rect x="149.19" y="327.5" width="4.3" height="1.1" fill="#1b6238"/>
<rect x="154.72" y="327.0" width="4.3" height="1.6" fill="#1b6238"/>
<rect x="160.25" y="328.6" width="4.3" height="4.3" fill="#7c2430"/>
<rect x="165.78" y="328.6" width="4.3" height="11.1" fill="#7c2430"/>
<rect x="171.31" y="328.6" width="4.3" height="14.9" fill="#7c2430"/>
<rect x="176.84" y="328.6" width="4.3" height="14.5" fill="#7c2430"/>
<rect x="182.37" y="328.6" width="4.3" height="16.0" fill="#7c2430"/>
<rect x="187.90" y="328.6" width="4.3" height="15.3" fill="#7c2430"/>
<rect x="193.43" y="328.6" width="4.3" height="17.2" fill="#7c2430"/>
<rect x="198.96" y="328.6" width="4.3" height="14.8" fill="#7c2430"/>
<rect x="204.49" y="328.6" width="4.3" height="8.7" fill="#7c2430"/>
<rect x="210.02" y="328.6" width="4.3" height="5.9" fill="#7c2430"/>
<rect x="215.55" y="328.6" width="4.3" height="2.4" fill="#7c2430"/>
<rect x="221.08" y="328.6" width="4.3" height="1.5" fill="#7c2430"/>
<rect x="226.61" y="327.9" width="4.3" height="0.8" fill="#1b6238"/>
<rect x="232.14" y="324.4" width="4.3" height="4.2" fill="#1b6238"/>
<rect x="237.67" y="320.0" width="4.3" height="8.6" fill="#1b6238"/>
<rect x="243.20" y="318.0" width="4.3" height="10.6" fill="#1b6238"/>
<rect x="248.73" y="317.5" width="4.3" height="11.1" fill="#1b6238"/>
<rect x="254.26" y="318.6" width="4.3" height="10.0" fill="#1b6238"/>
<rect x="259.79" y="317.4" width="4.3" height="11.2" fill="#1b6238"/>
<rect x="265.32" y="313.9" width="4.3" height="14.7" fill="#1b6238"/>
<rect x="270.85" y="313.3" width="4.3" height="15.3" fill="#1b6238"/>
<rect x="276.38" y="308.4" width="4.3" height="20.2" fill="#1b6238"/>
<rect x="281.91" y="308.9" width="4.3" height="19.7" fill="#1b6238"/>
<rect x="287.44" y="311.0" width="4.3" height="17.6" fill="#1b6238"/>
<rect x="292.97" y="312.6" width="4.3" height="16.0" fill="#1b6238"/>
<rect x="298.50" y="312.8" width="4.3" height="15.8" fill="#1b6238"/>
<rect x="304.03" y="316.1" width="4.3" height="12.5" fill="#1b6238"/>
<rect x="309.56" y="319.5" width="4.3" height="9.1" fill="#1b6238"/>
<rect x="315.09" y="323.5" width="4.3" height="5.1" fill="#1b6238"/>
<rect x="320.62" y="324.8" width="4.3" height="3.8" fill="#1b6238"/>
<rect x="326.15" y="328.5" width="4.3" height="0.8" fill="#1b6238"/>
<rect x="331.68" y="328.6" width="4.3" height="2.4" fill="#7c2430"/>
<rect x="337.21" y="328.6" width="4.3" height="2.0" fill="#7c2430"/>
<rect x="342.74" y="328.6" width="4.3" height="0.8" fill="#7c2430"/>
<rect x="348.27" y="328.6" width="4.3" height="0.8" fill="#7c2430"/>
<rect x="353.80" y="328.6" width="4.3" height="0.8" fill="#7c2430"/>
<rect x="359.33" y="328.6" width="4.3" height="2.5" fill="#7c2430"/>
<rect x="364.86" y="328.6" width="4.3" height="1.8" fill="#7c2430"/>
<rect x="370.39" y="328.6" width="4.3" height="2.5" fill="#7c2430"/>
<rect x="375.92" y="328.6" width="4.3" height="3.0" fill="#7c2430"/>
<rect x="381.45" y="328.6" width="4.3" height="1.1" fill="#7c2430"/>
<rect x="386.98" y="328.6" width="4.3" height="0.8" fill="#7c2430"/>
<rect x="392.51" y="327.6" width="4.3" height="1.0" fill="#1b6238"/>
<rect x="398.04" y="328.6" width="4.3" height="0.8" fill="#7c2430"/>
<rect x="403.57" y="328.6" width="4.3" height="3.7" fill="#7c2430"/>
<rect x="409.10" y="328.6" width="4.3" height="5.4" fill="#7c2430"/>
<rect x="414.63" y="328.6" width="4.3" height="6.2" fill="#7c2430"/>
<rect x="420.16" y="328.6" width="4.3" height="3.4" fill="#7c2430"/>
<rect x="425.69" y="328.6" width="4.3" height="1.0" fill="#7c2430"/>
<rect x="431.22" y="328.4" width="4.3" height="0.8" fill="#1b6238"/>
<rect x="436.75" y="327.5" width="4.3" height="1.1" fill="#1b6238"/>
<rect x="442.28" y="328.0" width="4.3" height="0.8" fill="#1b6238"/>
<rect x="447.81" y="328.6" width="4.3" height="0.8" fill="#7c2430"/>
<rect x="453.34" y="328.6" width="4.3" height="2.5" fill="#7c2430"/>
<rect x="458.87" y="328.6" width="4.3" height="4.5" fill="#7c2430"/>
<rect x="464.40" y="328.6" width="4.3" height="5.4" fill="#7c2430"/>
<rect x="469.93" y="328.6" width="4.3" height="6.9" fill="#7c2430"/>
<rect x="475.46" y="328.6" width="4.3" height="7.5" fill="#7c2430"/>
<rect x="480.99" y="328.6" width="4.3" height="6.8" fill="#7c2430"/>
<rect x="486.52" y="328.6" width="4.3" height="4.5" fill="#7c2430"/>
<rect x="492.05" y="328.6" width="4.3" height="3.4" fill="#7c2430"/>
<rect x="497.58" y="328.4" width="4.3" height="0.8" fill="#1b6238"/>
<rect x="503.11" y="325.3" width="4.3" height="3.3" fill="#1b6238"/>
<rect x="508.64" y="324.0" width="4.3" height="4.6" fill="#1b6238"/>
<rect x="514.17" y="322.6" width="4.3" height="6.0" fill="#1b6238"/>
<rect x="519.70" y="320.8" width="4.3" height="7.8" fill="#1b6238"/>
<rect x="525.23" y="319.1" width="4.3" height="9.5" fill="#1b6238"/>
<rect x="530.76" y="316.4" width="4.3" height="12.2" fill="#1b6238"/>
<rect x="536.29" y="316.5" width="4.3" height="12.1" fill="#1b6238"/>
<rect x="541.82" y="315.5" width="4.3" height="13.1" fill="#1b6238"/>
<rect x="547.35" y="316.4" width="4.3" height="12.2" fill="#1b6238"/>
<rect x="552.88" y="319.1" width="4.3" height="9.5" fill="#1b6238"/>
<rect x="558.41" y="323.0" width="4.3" height="5.6" fill="#1b6238"/>
<rect x="563.94" y="326.2" width="4.3" height="2.4" fill="#1b6238"/>
<rect x="569.47" y="327.0" width="4.3" height="1.6" fill="#1b6238"/>
<rect x="575.00" y="326.5" width="4.3" height="2.1" fill="#1b6238"/>
<rect x="580.53" y="323.3" width="4.3" height="5.3" fill="#1b6238"/>
<rect x="586.06" y="320.5" width="4.3" height="8.1" fill="#1b6238"/>
<rect x="591.59" y="315.7" width="4.3" height="12.9" fill="#1b6238"/>
<rect x="597.12" y="313.1" width="4.3" height="15.5" fill="#1b6238"/>
<rect x="602.65" y="316.9" width="4.3" height="11.7" fill="#1b6238"/>
<rect x="608.18" y="319.3" width="4.3" height="9.3" fill="#1b6238"/>
<rect x="613.71" y="321.4" width="4.3" height="7.2" fill="#1b6238"/>
<rect x="619.24" y="325.3" width="4.3" height="3.3" fill="#1b6238"/>
<rect x="624.77" y="328.1" width="4.3" height="0.8" fill="#1b6238"/>
<rect x="630.30" y="328.6" width="4.3" height="0.8" fill="#7c2430"/>
<rect x="635.83" y="328.6" width="4.3" height="0.8" fill="#7c2430"/>
<rect x="641.36" y="328.6" width="4.3" height="2.4" fill="#7c2430"/>
<rect x="646.89" y="328.6" width="4.3" height="4.4" fill="#7c2430"/>
<rect x="652.42" y="328.6" width="4.3" height="3.9" fill="#7c2430"/>
<rect x="657.95" y="328.6" width="4.3" height="4.9" fill="#7c2430"/>
<rect x="663.48" y="328.6" width="4.3" height="4.2" fill="#7c2430"/>
<rect x="669.01" y="328.6" width="4.3" height="2.9" fill="#7c2430"/>
<rect x="674.54" y="328.6" width="4.3" height="2.2" fill="#7c2430"/>
<rect x="680.07" y="328.6" width="4.3" height="0.8" fill="#7c2430"/>
<rect x="685.60" y="328.6" width="4.3" height="2.3" fill="#7c2430"/>
<rect x="691.13" y="328.6" width="4.3" height="0.8" fill="#7c2430"/>
<rect x="696.66" y="328.6" width="4.3" height="0.8" fill="#7c2430"/>
<rect x="702.19" y="328.6" width="4.3" height="0.8" fill="#7c2430"/>
<rect x="707.72" y="328.6" width="4.3" height="1.5" fill="#7c2430"/>
<rect x="713.25" y="328.6" width="4.3" height="2.1" fill="#7c2430"/>
<rect x="718.78" y="328.6" width="4.3" height="3.1" fill="#7c2430"/>
<rect x="724.31" y="328.6" width="4.3" height="0.9" fill="#7c2430"/>
<rect x="729.84" y="328.6" width="4.3" height="0.8" fill="#7c2430"/>
<rect x="735.37" y="327.8" width="4.3" height="0.8" fill="#1b6238"/>
<rect x="740.90" y="328.6" width="4.3" height="1.1" fill="#7c2430"/>
<rect x="746.43" y="328.6" width="4.3" height="2.8" fill="#7c2430"/>
<rect x="751.96" y="328.6" width="4.3" height="2.5" fill="#7c2430"/>
<rect x="757.49" y="328.6" width="4.3" height="2.2" fill="#7c2430"/>
<rect x="763.02" y="328.6" width="4.3" height="2.9" fill="#7c2430"/>
<rect x="768.55" y="328.6" width="4.3" height="3.3" fill="#7c2430"/>
<rect x="774.08" y="328.6" width="4.3" height="4.8" fill="#7c2430"/>
<rect x="779.61" y="328.6" width="4.3" height="7.9" fill="#7c2430"/>
<rect x="785.14" y="328.6" width="4.3" height="7.9" fill="#7c2430"/>
<rect x="790.67" y="328.6" width="4.3" height="6.2" fill="#7c2430"/>
<rect x="796.20" y="328.6" width="4.3" height="3.5" fill="#7c2430"/>
<rect x="801.73" y="328.6" width="4.3" height="2.7" fill="#7c2430"/>
<rect x="807.26" y="328.6" width="4.3" height="2.3" fill="#7c2430"/>
<rect x="812.79" y="328.2" width="4.3" height="0.8" fill="#1b6238"/>
<rect x="818.32" y="324.3" width="4.3" height="4.3" fill="#1b6238"/>
<rect x="823.85" y="323.1" width="4.3" height="5.5" fill="#1b6238"/>
<rect x="829.38" y="323.4" width="4.3" height="5.2" fill="#1b6238"/>
<rect x="834.91" y="324.2" width="4.3" height="4.4" fill="#1b6238"/>
<rect x="840.44" y="325.3" width="4.3" height="3.3" fill="#1b6238"/>
<rect x="845.97" y="325.1" width="4.3" height="3.5" fill="#1b6238"/>
<rect x="851.50" y="326.0" width="4.3" height="2.6" fill="#1b6238"/>
<rect x="857.03" y="325.4" width="4.3" height="3.2" fill="#1b6238"/>
<rect x="862.56" y="323.1" width="4.3" height="5.5" fill="#1b6238"/>
<rect x="868.09" y="320.8" width="4.3" height="7.8" fill="#1b6238"/>
<rect x="873.62" y="318.1" width="4.3" height="10.5" fill="#1b6238"/>
<rect x="879.15" y="318.8" width="4.3" height="9.8" fill="#1b6238"/>
<rect x="884.68" y="318.1" width="4.3" height="10.5" fill="#1b6238"/>
<rect x="890.21" y="319.4" width="4.3" height="9.2" fill="#1b6238"/>
<rect x="895.74" y="321.8" width="4.3" height="6.8" fill="#1b6238"/>
<path d="M51.8,368.6 C52.7,369.0 55.5,370.0 57.3,370.7 C59.2,371.4 61.0,372.1 62.9,372.7 C64.7,373.3 66.5,374.0 68.4,374.5 C70.2,375.0 72.1,375.5 73.9,375.8 C75.8,376.1 77.6,376.3 79.5,376.3 C81.3,376.4 83.1,376.2 85.0,376.0 C86.8,375.8 88.7,375.4 90.5,374.9 C92.4,374.5 94.2,374.1 96.0,373.5 C97.9,372.9 99.7,372.2 101.6,371.5 C103.4,370.8 105.3,370.1 107.1,369.4 C108.9,368.7 110.8,368.1 112.6,367.4 C114.5,366.7 116.3,366.0 118.2,365.3 C120.0,364.6 121.8,363.9 123.7,363.3 C125.5,362.7 127.4,362.0 129.2,361.8 C131.1,361.5 132.9,361.9 134.8,362.0 C136.6,362.0 138.4,362.1 140.3,362.1 C142.1,362.1 144.0,361.9 145.8,361.8 C147.7,361.7 149.5,361.7 151.3,361.6 C153.2,361.5 155.0,361.1 156.9,361.2 C158.7,361.3 160.6,361.6 162.4,362.2 C164.2,362.7 166.1,363.7 167.9,364.7 C169.8,365.6 171.6,366.9 173.5,368.0 C175.3,369.1 177.1,370.1 179.0,371.2 C180.8,372.3 182.7,373.6 184.5,374.8 C186.4,375.9 188.2,377.0 190.1,378.2 C191.9,379.4 193.7,380.8 195.6,382.0 C197.4,383.2 199.3,384.5 201.1,385.3 C203.0,386.2 204.8,386.7 206.6,387.3 C208.5,387.8 210.3,388.3 212.2,388.6 C214.0,388.9 215.9,389.0 217.7,389.1 C219.5,389.3 221.4,389.4 223.2,389.5 C225.1,389.5 226.9,389.5 228.8,389.3 C230.6,389.1 232.4,388.9 234.3,388.4 C236.1,387.9 238.0,387.2 239.8,386.4 C241.7,385.7 243.5,384.9 245.4,384.1 C247.2,383.3 249.0,382.4 250.9,381.6 C252.7,380.8 254.6,380.2 256.4,379.4 C258.3,378.6 260.1,377.8 261.9,376.9 C263.8,375.9 265.6,374.7 267.5,373.6 C269.3,372.5 271.2,371.5 273.0,370.2 C274.8,368.9 276.7,367.2 278.5,365.7 C280.4,364.2 282.2,362.7 284.1,361.3 C285.9,359.9 287.7,358.6 289.6,357.3 C291.4,356.1 293.3,355.0 295.1,353.8 C297.0,352.6 298.8,351.3 300.7,350.3 C302.5,349.2 304.3,348.3 306.2,347.5 C308.0,346.7 309.9,346.0 311.7,345.4 C313.6,344.9 315.4,344.6 317.2,344.3 C319.1,344.0 320.9,343.6 322.8,343.5 C324.6,343.3 326.5,343.4 328.3,343.4 C330.1,343.5 332.0,343.8 333.8,344.0 C335.7,344.1 337.5,344.3 339.4,344.4 C341.2,344.5 343.0,344.5 344.9,344.5 C346.7,344.6 348.6,344.6 350.4,344.7 C352.3,344.7 354.1,344.6 356.0,344.7 C357.8,344.8 359.6,345.2 361.5,345.3 C363.3,345.5 365.2,345.6 367.0,345.7 C368.9,345.9 370.7,346.1 372.5,346.3 C374.4,346.5 376.2,346.8 378.1,346.9 C379.9,347.1 381.8,347.1 383.6,347.2 C385.4,347.2 387.3,347.3 389.1,347.3 C391.0,347.2 392.8,347.1 394.7,347.1 C396.5,347.0 398.3,347.0 400.2,347.1 C402.0,347.2 403.9,347.6 405.7,347.9 C407.6,348.3 409.4,348.7 411.2,349.1 C413.1,349.6 414.9,350.2 416.8,350.5 C418.6,350.9 420.5,351.1 422.3,351.3 C424.2,351.4 426.0,351.5 427.8,351.5 C429.7,351.5 431.5,351.5 433.4,351.5 C435.2,351.4 437.1,351.3 438.9,351.2 C440.7,351.2 442.6,351.1 444.4,351.1 C446.3,351.1 448.1,351.2 450.0,351.3 C451.8,351.4 453.6,351.6 455.5,351.8 C457.3,352.1 459.2,352.5 461.0,352.8 C462.9,353.2 464.7,353.6 466.6,354.0 C468.4,354.5 470.2,355.0 472.1,355.6 C473.9,356.1 475.8,356.7 477.6,357.2 C479.5,357.8 481.3,358.3 483.1,358.7 C485.0,359.2 486.8,359.5 488.7,359.7 C490.5,360.0 492.4,360.4 494.2,360.5 C496.0,360.6 497.9,360.6 499.7,360.5 C501.6,360.3 503.4,360.0 505.3,359.7 C507.1,359.4 508.9,359.1 510.8,358.7 C512.6,358.3 514.5,357.9 516.3,357.4 C518.2,356.8 520.0,356.3 521.9,355.6 C523.7,355.0 525.5,354.3 527.4,353.5 C529.2,352.7 531.1,351.7 532.9,350.8 C534.8,349.9 536.6,349.0 538.4,348.1 C540.3,347.1 542.1,346.1 544.0,345.1 C545.8,344.2 547.7,343.2 549.5,342.4 C551.3,341.6 553.2,340.9 555.0,340.3 C556.9,339.7 558.7,339.3 560.6,339.0 C562.4,338.7 564.2,338.7 566.1,338.5 C567.9,338.4 569.8,338.3 571.6,338.1 C573.5,338.0 575.3,338.0 577.1,337.7 C579.0,337.4 580.8,337.0 582.7,336.5 C584.5,336.0 586.4,335.5 588.2,334.7 C590.1,333.9 591.9,332.9 593.7,331.8 C595.6,330.8 597.4,329.4 599.3,328.4 C601.1,327.3 603.0,326.5 604.8,325.8 C606.6,325.0 608.5,324.3 610.3,323.7 C612.2,323.1 614.0,322.5 615.9,322.1 C617.7,321.7 619.5,321.5 621.4,321.3 C623.2,321.2 625.1,321.2 626.9,321.2 C628.8,321.2 630.6,321.4 632.4,321.4 C634.3,321.5 636.1,321.4 638.0,321.5 C639.8,321.6 641.7,321.8 643.5,322.1 C645.4,322.3 647.2,322.7 649.0,323.1 C650.9,323.4 652.7,323.6 654.6,323.9 C656.4,324.2 658.3,324.7 660.1,325.0 C661.9,325.3 663.8,325.7 665.6,326.0 C667.5,326.2 669.3,326.4 671.2,326.6 C673.0,326.8 674.8,327.0 676.7,327.1 C678.5,327.2 680.4,327.0 682.2,327.1 C684.1,327.2 685.9,327.5 687.8,327.6 C689.6,327.7 691.4,327.7 693.3,327.8 C695.1,327.8 697.0,327.9 698.8,327.9 C700.7,327.9 702.5,327.9 704.3,327.9 C706.2,328.0 708.0,328.1 709.9,328.3 C711.7,328.4 713.6,328.5 715.4,328.7 C717.2,328.9 719.1,329.3 720.9,329.4 C722.8,329.6 724.6,329.6 726.5,329.6 C728.3,329.7 730.1,329.7 732.0,329.7 C733.8,329.6 735.7,329.5 737.5,329.5 C739.4,329.5 741.2,329.6 743.0,329.7 C744.9,329.9 746.7,330.1 748.6,330.3 C750.4,330.5 752.3,330.7 754.1,330.9 C756.0,331.1 757.8,331.2 759.6,331.4 C761.5,331.6 763.3,331.8 765.2,332.0 C767.0,332.3 768.9,332.5 770.7,332.8 C772.5,333.1 774.4,333.4 776.2,333.8 C778.1,334.3 779.9,335.0 781.8,335.6 C783.6,336.2 785.4,336.9 787.3,337.4 C789.1,337.9 791.0,338.4 792.8,338.8 C794.7,339.1 796.5,339.3 798.4,339.5 C800.2,339.8 802.0,340.0 803.9,340.2 C805.7,340.3 807.6,340.6 809.4,340.7 C811.3,340.7 813.1,340.8 814.9,340.6 C816.8,340.4 818.6,340.0 820.5,339.6 C822.3,339.2 824.2,338.8 826.0,338.4 C827.8,338.0 829.7,337.6 831.5,337.2 C833.4,336.9 835.2,336.5 837.1,336.2 C838.9,336.0 840.7,335.8 842.6,335.5 C844.4,335.3 846.3,334.9 848.1,334.7 C850.0,334.5 851.8,334.4 853.6,334.1 C855.5,333.9 857.3,333.7 859.2,333.4 C861.0,333.1 862.9,332.7 864.7,332.2 C866.6,331.7 868.4,331.1 870.2,330.4 C872.1,329.8 873.9,328.9 875.8,328.1 C877.6,327.3 879.5,326.7 881.3,325.9 C883.1,325.2 885.0,324.3 886.8,323.6 C888.7,322.8 890.5,322.1 892.4,321.5 C894.2,320.9 897.0,320.3 897.9,320.0" stroke="#d6cf93" stroke-width="1.6" fill="none"/>
<path d="M51.8,378.0 C52.7,378.2 55.5,378.6 57.3,379.1 C59.2,379.5 61.0,380.3 62.9,380.7 C64.7,381.1 66.5,381.6 68.4,381.7 C70.2,381.7 72.1,381.4 73.9,380.9 C75.8,380.4 77.6,379.6 79.5,378.6 C81.3,377.6 83.1,376.0 85.0,374.7 C86.8,373.4 88.7,371.8 90.5,370.7 C92.4,369.5 94.2,369.0 96.0,367.8 C97.9,366.6 99.7,364.5 101.6,363.4 C103.4,362.3 105.3,361.8 107.1,361.1 C108.9,360.4 110.8,360.0 112.6,359.3 C114.5,358.6 116.3,357.6 118.2,356.9 C120.0,356.3 121.8,355.7 123.7,355.5 C125.5,355.2 127.4,354.2 129.2,355.5 C131.1,356.7 132.9,361.6 134.8,362.8 C136.6,364.0 138.4,362.9 140.3,362.6 C142.1,362.3 144.0,361.1 145.8,360.8 C147.7,360.4 149.5,360.7 151.3,360.6 C153.2,360.4 155.0,358.9 156.9,359.8 C158.7,360.7 160.6,363.5 162.4,366.0 C164.2,368.5 166.1,372.0 167.9,374.6 C169.8,377.1 171.6,379.7 173.5,381.3 C175.3,382.9 177.1,382.8 179.0,384.1 C180.8,385.4 182.7,387.8 184.5,389.1 C186.4,390.4 188.2,390.5 190.1,391.9 C191.9,393.3 193.7,396.3 195.6,397.4 C197.4,398.5 199.3,399.0 201.1,398.6 C203.0,398.2 204.8,395.8 206.6,395.0 C208.5,394.2 210.3,394.5 212.2,393.9 C214.0,393.3 215.9,391.8 217.7,391.2 C219.5,390.7 221.4,391.2 223.2,390.8 C225.1,390.4 226.9,389.7 228.8,388.7 C230.6,387.7 232.4,386.3 234.3,384.7 C236.1,383.0 238.0,380.4 239.8,378.7 C241.7,377.1 243.5,375.8 245.4,374.6 C247.2,373.5 249.0,372.4 250.9,371.7 C252.7,371.0 254.6,371.3 256.4,370.5 C258.3,369.6 260.1,368.5 261.9,366.9 C263.8,365.2 265.6,362.2 267.5,360.4 C269.3,358.7 271.2,358.7 273.0,356.5 C274.8,354.4 276.7,349.8 278.5,347.7 C280.4,345.5 282.2,344.7 284.1,343.7 C285.9,342.7 287.7,342.3 289.6,341.6 C291.4,340.9 293.3,340.4 295.1,339.5 C297.0,338.6 298.8,336.7 300.7,336.2 C302.5,335.7 304.3,336.1 306.2,336.3 C308.0,336.5 309.9,336.8 311.7,337.3 C313.6,337.9 315.4,339.3 317.2,339.8 C319.1,340.3 320.9,339.5 322.8,340.1 C324.6,340.7 326.5,342.4 328.3,343.4 C330.1,344.4 332.0,345.6 333.8,346.1 C335.7,346.6 337.5,346.4 339.4,346.2 C341.2,346.0 343.0,345.0 344.9,344.9 C346.7,344.7 348.6,345.3 350.4,345.3 C352.3,345.3 354.1,344.6 356.0,345.0 C357.8,345.4 359.6,347.2 361.5,347.6 C363.3,348.0 365.2,347.2 367.0,347.3 C368.9,347.4 370.7,348.1 372.5,348.5 C374.4,348.9 376.2,349.7 378.1,349.6 C379.9,349.6 381.8,348.5 383.6,348.2 C385.4,347.9 387.3,347.9 389.1,347.6 C391.0,347.3 392.8,346.2 394.7,346.2 C396.5,346.1 398.3,346.5 400.2,347.3 C402.0,348.2 403.9,350.1 405.7,351.2 C407.6,352.3 409.4,353.1 411.2,354.0 C413.1,354.8 414.9,356.0 416.8,356.0 C418.6,356.1 420.5,355.0 422.3,354.4 C424.2,353.7 426.0,352.9 427.8,352.4 C429.7,351.9 431.5,351.7 433.4,351.3 C435.2,351.0 437.1,350.4 438.9,350.3 C440.7,350.2 442.6,350.3 444.4,350.6 C446.3,350.9 448.1,351.4 450.0,352.0 C451.8,352.6 453.6,353.2 455.5,354.0 C457.3,354.8 459.2,356.0 461.0,356.8 C462.9,357.6 464.7,358.0 466.6,358.8 C468.4,359.7 470.2,360.9 472.1,361.7 C473.9,362.6 475.8,363.4 477.6,363.9 C479.5,364.5 481.3,364.8 483.1,364.8 C485.0,364.8 486.8,363.9 488.7,363.7 C490.5,363.5 492.4,364.1 494.2,363.5 C496.0,362.9 497.9,361.4 499.7,360.3 C501.6,359.2 503.4,357.7 505.3,356.8 C507.1,355.9 508.9,355.4 510.8,354.6 C512.6,353.8 514.5,353.0 516.3,352.0 C518.2,351.0 520.0,349.8 521.9,348.6 C523.7,347.4 525.5,346.5 527.4,345.0 C529.2,343.6 531.1,341.2 532.9,339.9 C534.8,338.6 536.6,338.3 538.4,337.2 C540.3,336.2 542.1,334.4 544.0,333.4 C545.8,332.5 547.7,331.8 549.5,331.5 C551.3,331.3 553.2,331.4 555.0,331.9 C556.9,332.3 558.7,333.3 560.6,334.0 C562.4,334.8 564.2,335.9 566.1,336.3 C567.9,336.8 569.8,336.8 571.6,336.7 C573.5,336.6 575.3,336.7 577.1,335.9 C579.0,335.0 580.8,333.2 582.7,331.8 C584.5,330.4 586.4,329.4 588.2,327.5 C590.1,325.6 591.9,322.5 593.7,320.3 C595.6,318.2 597.4,315.3 599.3,314.5 C601.1,313.7 603.0,315.2 604.8,315.3 C606.6,315.5 608.5,315.3 610.3,315.3 C612.2,315.4 614.0,315.2 615.9,315.7 C617.7,316.2 619.5,317.5 621.4,318.4 C623.2,319.2 625.1,320.2 626.9,320.8 C628.8,321.4 630.6,321.9 632.4,322.1 C634.3,322.3 636.1,321.7 638.0,322.1 C639.8,322.4 641.7,323.4 643.5,324.2 C645.4,325.0 647.2,326.5 649.0,327.0 C650.9,327.5 652.7,327.0 654.6,327.4 C656.4,327.8 658.3,329.0 660.1,329.4 C661.9,329.7 663.8,329.8 665.6,329.7 C667.5,329.7 669.3,329.3 671.2,329.2 C673.0,329.1 674.8,329.4 676.7,329.1 C678.5,328.8 680.4,327.1 682.2,327.2 C684.1,327.3 685.9,329.5 687.8,329.7 C689.6,329.9 691.4,328.6 693.3,328.4 C695.1,328.1 697.0,328.4 698.8,328.3 C700.7,328.3 702.5,327.9 704.3,328.1 C706.2,328.3 708.0,329.2 709.9,329.6 C711.7,330.0 713.6,330.2 715.4,330.6 C717.2,331.0 719.1,332.2 720.9,332.2 C722.8,332.1 724.6,330.8 726.5,330.4 C728.3,330.0 730.1,330.1 732.0,329.9 C733.8,329.6 735.7,328.6 737.5,328.7 C739.4,328.9 741.2,330.0 743.0,330.7 C744.9,331.3 746.7,332.4 748.6,332.8 C750.4,333.2 752.3,333.1 754.1,333.1 C756.0,333.2 757.8,333.1 759.6,333.4 C761.5,333.6 763.3,334.2 765.2,334.6 C767.0,335.0 768.9,335.1 770.7,335.7 C772.5,336.3 774.4,337.0 776.2,338.1 C778.1,339.3 779.9,341.7 781.8,342.7 C783.6,343.8 785.4,344.2 787.3,344.5 C789.1,344.7 791.0,344.6 792.8,344.3 C794.7,344.0 796.5,343.0 798.4,342.7 C800.2,342.4 802.0,342.6 803.9,342.6 C805.7,342.6 807.6,343.1 809.4,342.7 C811.3,342.3 813.1,341.4 814.9,340.3 C816.8,339.1 818.6,336.9 820.5,335.7 C822.3,334.6 824.2,334.0 826.0,333.4 C827.8,332.9 829.7,332.7 831.5,332.5 C833.4,332.3 835.2,332.3 837.1,332.3 C838.9,332.3 840.7,332.7 842.6,332.6 C844.4,332.4 846.3,331.7 848.1,331.6 C850.0,331.5 851.8,332.0 853.6,331.8 C855.5,331.7 857.3,331.3 859.2,330.5 C861.0,329.8 862.9,328.4 864.7,327.2 C866.6,326.1 868.4,324.9 870.2,323.5 C872.1,322.1 873.9,319.7 875.8,318.7 C877.6,317.6 879.5,317.9 881.3,317.1 C883.1,316.4 885.0,314.9 886.8,314.2 C888.7,313.6 890.5,313.4 892.4,313.4 C894.2,313.3 897.0,313.8 897.9,313.9" stroke="#7087d2" stroke-width="1.6" fill="none"/></g>
</svg>

<div class="t" style="left:57.1px;top:21.54px;font-size:18.5px;line-height:18.5px;color:#f4f4f4;font-weight:bold;letter-spacing:0px;transform:scaleX(0.976);transform-origin:0 0;">USDX.</div><div style="position:absolute;left:131px;top:24px;width:1.5px;height:16px;background:#1f1f1f"></div><div class="t" style="left:149.1px;top:21.96px;font-size:18px;line-height:18px;color:#f4f4f4;font-weight:bold;letter-spacing:0.95px;">98.479</div><div style="position:absolute;left:219.5px;top:18px;width:124px;height:23.7px;background:#2c1418;border-radius:3px"></div><div class="t" style="left:224.0px;top:22.53px;font-size:16.5px;line-height:16.5px;color:#e24a5a;font-weight:normal;letter-spacing:0px;">-0.320 (-0.32%)</div><div style="position:absolute;left:362.5px;top:24px;width:1.5px;height:16px;background:#1f1f1f"></div><div class="t" style="left:382.0px;top:22.88px;font-size:15.5px;line-height:15.5px;color:#c9c9c9;font-weight:normal;letter-spacing:0px;transform:scaleX(0.87);transform-origin:0 0;-webkit-text-stroke:0.2px #c9c9c9;">09:55:51</div><div class="t" style="left:53.0px;top:74.34px;font-size:13.3px;line-height:13.3px;color:#d4d4d4;font-weight:normal;letter-spacing:0px;transform:scaleX(0.977);transform-origin:0 0;-webkit-text-stroke:0.35px #d4d4d4;">Tick Chart</div><div class="t" style="left:161.5px;top:74.34px;font-size:13.3px;line-height:13.3px;color:#d4d4d4;font-weight:normal;letter-spacing:0px;-webkit-text-stroke:0.35px #d4d4d4;">1m</div><div class="t" style="left:251.0px;top:74.34px;font-size:13.3px;line-height:13.3px;color:#d4d4d4;font-weight:normal;letter-spacing:0px;-webkit-text-stroke:0.35px #d4d4d4;">5m</div><div class="t" style="left:340.4px;top:74.34px;font-size:13.3px;line-height:13.3px;color:#d4d4d4;font-weight:normal;letter-spacing:0px;-webkit-text-stroke:0.35px #d4d4d4;">15m</div><div class="t" style="left:429.1px;top:74.34px;font-size:13.3px;line-height:13.3px;color:#d4d4d4;font-weight:normal;letter-spacing:0px;-webkit-text-stroke:0.35px #d4d4d4;">30m</div><div class="t" style="left:519.0px;top:74.34px;font-size:13.3px;line-height:13.3px;color:#d4d4d4;font-weight:normal;letter-spacing:0px;-webkit-text-stroke:0.35px #d4d4d4;">1h</div><div class="t" style="left:608.3px;top:74.34px;font-size:13.3px;line-height:13.3px;color:#d4d4d4;font-weight:normal;letter-spacing:0px;-webkit-text-stroke:0.35px #d4d4d4;">4h</div><div class="t" style="left:787.0px;top:74.34px;font-size:13.3px;line-height:13.3px;color:#d4d4d4;font-weight:normal;letter-spacing:0px;-webkit-text-stroke:0.35px #d4d4d4;">1W</div><div class="t" style="left:876.1px;top:74.34px;font-size:13.3px;line-height:13.3px;color:#d4d4d4;font-weight:normal;letter-spacing:0px;-webkit-text-stroke:0.35px #d4d4d4;">1M</div><div style="position:absolute;left:697.3px;top:66.8px;width:35.6px;height:25.8px;background:#28282a;border-radius:5px"></div><div class="t" style="left:707.2px;top:74.54px;font-size:13.3px;line-height:13.3px;color:#f0f0f0;font-weight:normal;letter-spacing:0px;transform:scaleX(0.92);transform-origin:0 0;-webkit-text-stroke:0.55px #f0f0f0;">1D</div><div class="t" style="left:908.6px;top:112.59px;font-size:11px;line-height:11px;color:#d6d6d6;font-weight:normal;letter-spacing:0px;-webkit-text-stroke:0.4px #d6d6d6;">106.000</div><div class="t" style="left:908.6px;top:145.89px;font-size:11px;line-height:11px;color:#d6d6d6;font-weight:normal;letter-spacing:0px;-webkit-text-stroke:0.4px #d6d6d6;">104.000</div><div class="t" style="left:908.6px;top:179.89px;font-size:11px;line-height:11px;color:#d6d6d6;font-weight:normal;letter-spacing:0px;-webkit-text-stroke:0.4px #d6d6d6;">102.000</div><div class="t" style="left:908.6px;top:214.09px;font-size:11px;line-height:11px;color:#d6d6d6;font-weight:normal;letter-spacing:0px;-webkit-text-stroke:0.4px #d6d6d6;">100.000</div><div class="t" style="left:908.6px;top:285.09px;font-size:11px;line-height:11px;color:#d6d6d6;font-weight:normal;letter-spacing:0px;-webkit-text-stroke:0.4px #d6d6d6;">96.000</div><div class="t" style="left:907.6px;top:323.99px;font-size:11px;line-height:11px;color:#d6d6d6;font-weight:normal;letter-spacing:0px;-webkit-text-stroke:0.4px #d6d6d6;">0.000</div><div class="t" style="left:907.6px;top:370.19px;font-size:11px;line-height:11px;color:#d6d6d6;font-weight:normal;letter-spacing:0px;-webkit-text-stroke:0.4px #d6d6d6;">&#8722;1.000</div><div style="position:absolute;left:900.5px;top:237.5px;width:47px;height:16.2px;background:#1fb35c;border-radius:1px"></div><div style="position:absolute;left:900.5px;top:253.7px;width:47px;height:15.5px;background:#ee2f45;border-radius:1px"></div><div class="t" style="left:908.3px;top:240.12px;font-size:11.2px;line-height:11.2px;color:#f4f4f4;font-weight:normal;letter-spacing:0px;-webkit-text-stroke:0.3px #f4f4f4;">98.524</div><div class="t" style="left:908.3px;top:255.92px;font-size:11.2px;line-height:11.2px;color:#f4f4f4;font-weight:normal;letter-spacing:0px;-webkit-text-stroke:0.3px #f4f4f4;">98.479</div><div class="t" style="left:101.5px;top:414.64px;font-size:12px;line-height:12px;color:#d4d4d4;font-weight:bold;letter-spacing:0px;">04/2025</div><div class="t" style="left:217.2px;top:414.64px;font-size:12px;line-height:12px;color:#d4d4d4;font-weight:bold;letter-spacing:0px;">05/2025</div><div class="t" style="left:338.9px;top:414.64px;font-size:12px;line-height:12px;color:#d4d4d4;font-weight:bold;letter-spacing:0px;">06/2025</div><div class="t" style="left:455.0px;top:414.64px;font-size:12px;line-height:12px;color:#d4d4d4;font-weight:bold;letter-spacing:0px;">07/2025</div><div class="t" style="left:582.7px;top:414.64px;font-size:12px;line-height:12px;color:#d4d4d4;font-weight:bold;letter-spacing:0px;">08/2025</div><div class="t" style="left:697.8px;top:414.64px;font-size:12px;line-height:12px;color:#d4d4d4;font-weight:bold;letter-spacing:0px;">09/2025</div><div class="t" style="left:820.3px;top:414.64px;font-size:12px;line-height:12px;color:#d4d4d4;font-weight:bold;letter-spacing:0px;">10/2025</div><div class="t" style="left:64.6px;top:118.07px;font-size:11.5px;line-height:11.5px;color:#eeeeee;font-weight:normal;letter-spacing:0px;-webkit-text-stroke:0.3px #eeeeee;">MA</div><div class="t" style="left:89.0px;top:118.48px;font-size:10.3px;line-height:10.3px;color:#dadada;font-weight:normal;letter-spacing:0px;-webkit-text-stroke:0.2px #dadada;">(5,10,30)</div><div class="t" style="left:64.6px;top:316.77px;font-size:11.5px;line-height:11.5px;color:#eeeeee;font-weight:normal;letter-spacing:0px;-webkit-text-stroke:0.3px #eeeeee;">MACD</div><div class="t" style="left:104.2px;top:317.33px;font-size:10.6px;line-height:10.6px;color:#dadada;font-weight:normal;letter-spacing:0px;-webkit-text-stroke:0.2px #dadada;">(12,26,9)</div><div class="t" style="left:117.0px;top:141.53px;font-size:10px;line-height:10px;color:#dadada;font-weight:normal;letter-spacing:0px;-webkit-text-stroke:0.25px #dadada;">104.296</div><div class="t" style="left:796.4px;top:288.97px;font-size:10.2px;line-height:10.2px;color:#e0e0e0;font-weight:normal;letter-spacing:0px;-webkit-text-stroke:0.3px #e0e0e0;">95.819</div>

<svg width="1024" height="455" style="position:absolute;left:0;top:0">
 <g fill="none" stroke="#f0f0f0" stroke-width="2" stroke-linejoin="round" stroke-linecap="round">
  <path d="M916.9,30.7 L921.8,22.7 L931.6,22.7 L936.4,30.7 L931.6,38.7 L921.8,38.7 Z"/>
  <circle cx="926.7" cy="30.7" r="4.2"/>
 </g>
 <g fill="none" stroke="#f0f0f0" stroke-width="1.8" stroke-linecap="round">
  <path d="M971.5,24.9 L983.3,36.7 M983.3,24.9 L971.5,36.7"/>
 </g>
 <g fill="none" stroke="#e8e8e8" stroke-width="1.75" stroke-linecap="round" stroke-linejoin="round">
  <path d="M965.9,62 L965.9,79.1 L982.7,79.1"/>
  <path d="M969.5,75.5 L973.5,67.9 L977.8,71.8 L982.9,62"/>
 </g>
 <g fill="none" stroke="#b4b4b4" stroke-width="1.5" stroke-linecap="round" stroke-linejoin="round">
  <path d="M8.2,-2.7 Q9.6,-2.7 9.6,-1.3 L9.6,1.3 Q9.6,2.7 8.2,2.7 L-5,2.7 L-9.6,0.6 L-9.6,-0.6 L-5,-2.7 Z" transform="translate(974.4,111.3) rotate(-44)"/>
  <path d="M973.7,118 L981.7,118"/>
  <path d="M8.2,-2.7 Q9.6,-2.7 9.6,-1.3 L9.6,1.3 Q9.6,2.7 8.2,2.7 L-5,2.7 L-9.6,0.6 L-9.6,-0.6 L-5,-2.7 Z" transform="translate(974.6,151.4) rotate(-44)"/>
  <path d="M-5,-2 L-9,0 L-5,2 Z" transform="translate(974.6,151.4) rotate(-44)" fill="#b4b4b4"/>
  <path d="M974,157.9 L983,157.9"/>
  <path d="M976.6,182.4 L982.9,188.7 L972.3,199 L965.7,193.3 Z M970.6,188.4 L976.6,194.4 M972.3,198.8 L981.1,198.8"/>
  <path d="M967.6,236.4 L979.4,224.6" stroke-width="1.3"/>
  <path d="M964.9,270.4 L982.6,270.4" stroke-width="1.6"/>
  <path d="M973.8,301.2 L973.8,318.8" stroke-width="1.6"/>
  <path d="M965.9,356.4 L968.6,349.8 L977.1,353.1 L981.3,344 M977.6,344.8 L981.5,343.6 L983.2,347.4" stroke-width="1.6"/>
  <path d="M967.5,383.2 L980.8,383.2 L980.8,396.3 L967.5,396.3 Z" stroke-width="1.7"/>
  <path d="M968.8,427.1 L977.7,422.5 L980.8,429.7 L976.2,436.3 Z" stroke-width="1.6"/>
 </g>
 <g fill="#c4c4c4">
  <circle cx="967.6" cy="236.4" r="2.4"/><circle cx="979.4" cy="224.6" r="2.4"/>
  <circle cx="973.8" cy="270.4" r="2.5"/>
  <circle cx="973.8" cy="309.6" r="2.5"/>
  <circle cx="968.6" cy="349.8" r="2.1"/><circle cx="977.1" cy="353.1" r="2.1"/>
  <circle cx="967.5" cy="383.2" r="2.3"/><circle cx="980.8" cy="383.2" r="2.3"/><circle cx="980.8" cy="396.3" r="2.3"/><circle cx="967.5" cy="396.3" r="2.3"/>
  <circle cx="968.8" cy="427.1" r="2.3"/><circle cx="977.7" cy="422.5" r="2.3"/><circle cx="980.8" cy="429.7" r="2.3"/><circle cx="976.2" cy="436.3" r="2.3"/>
 </g>
</svg>

</div></body></html>
